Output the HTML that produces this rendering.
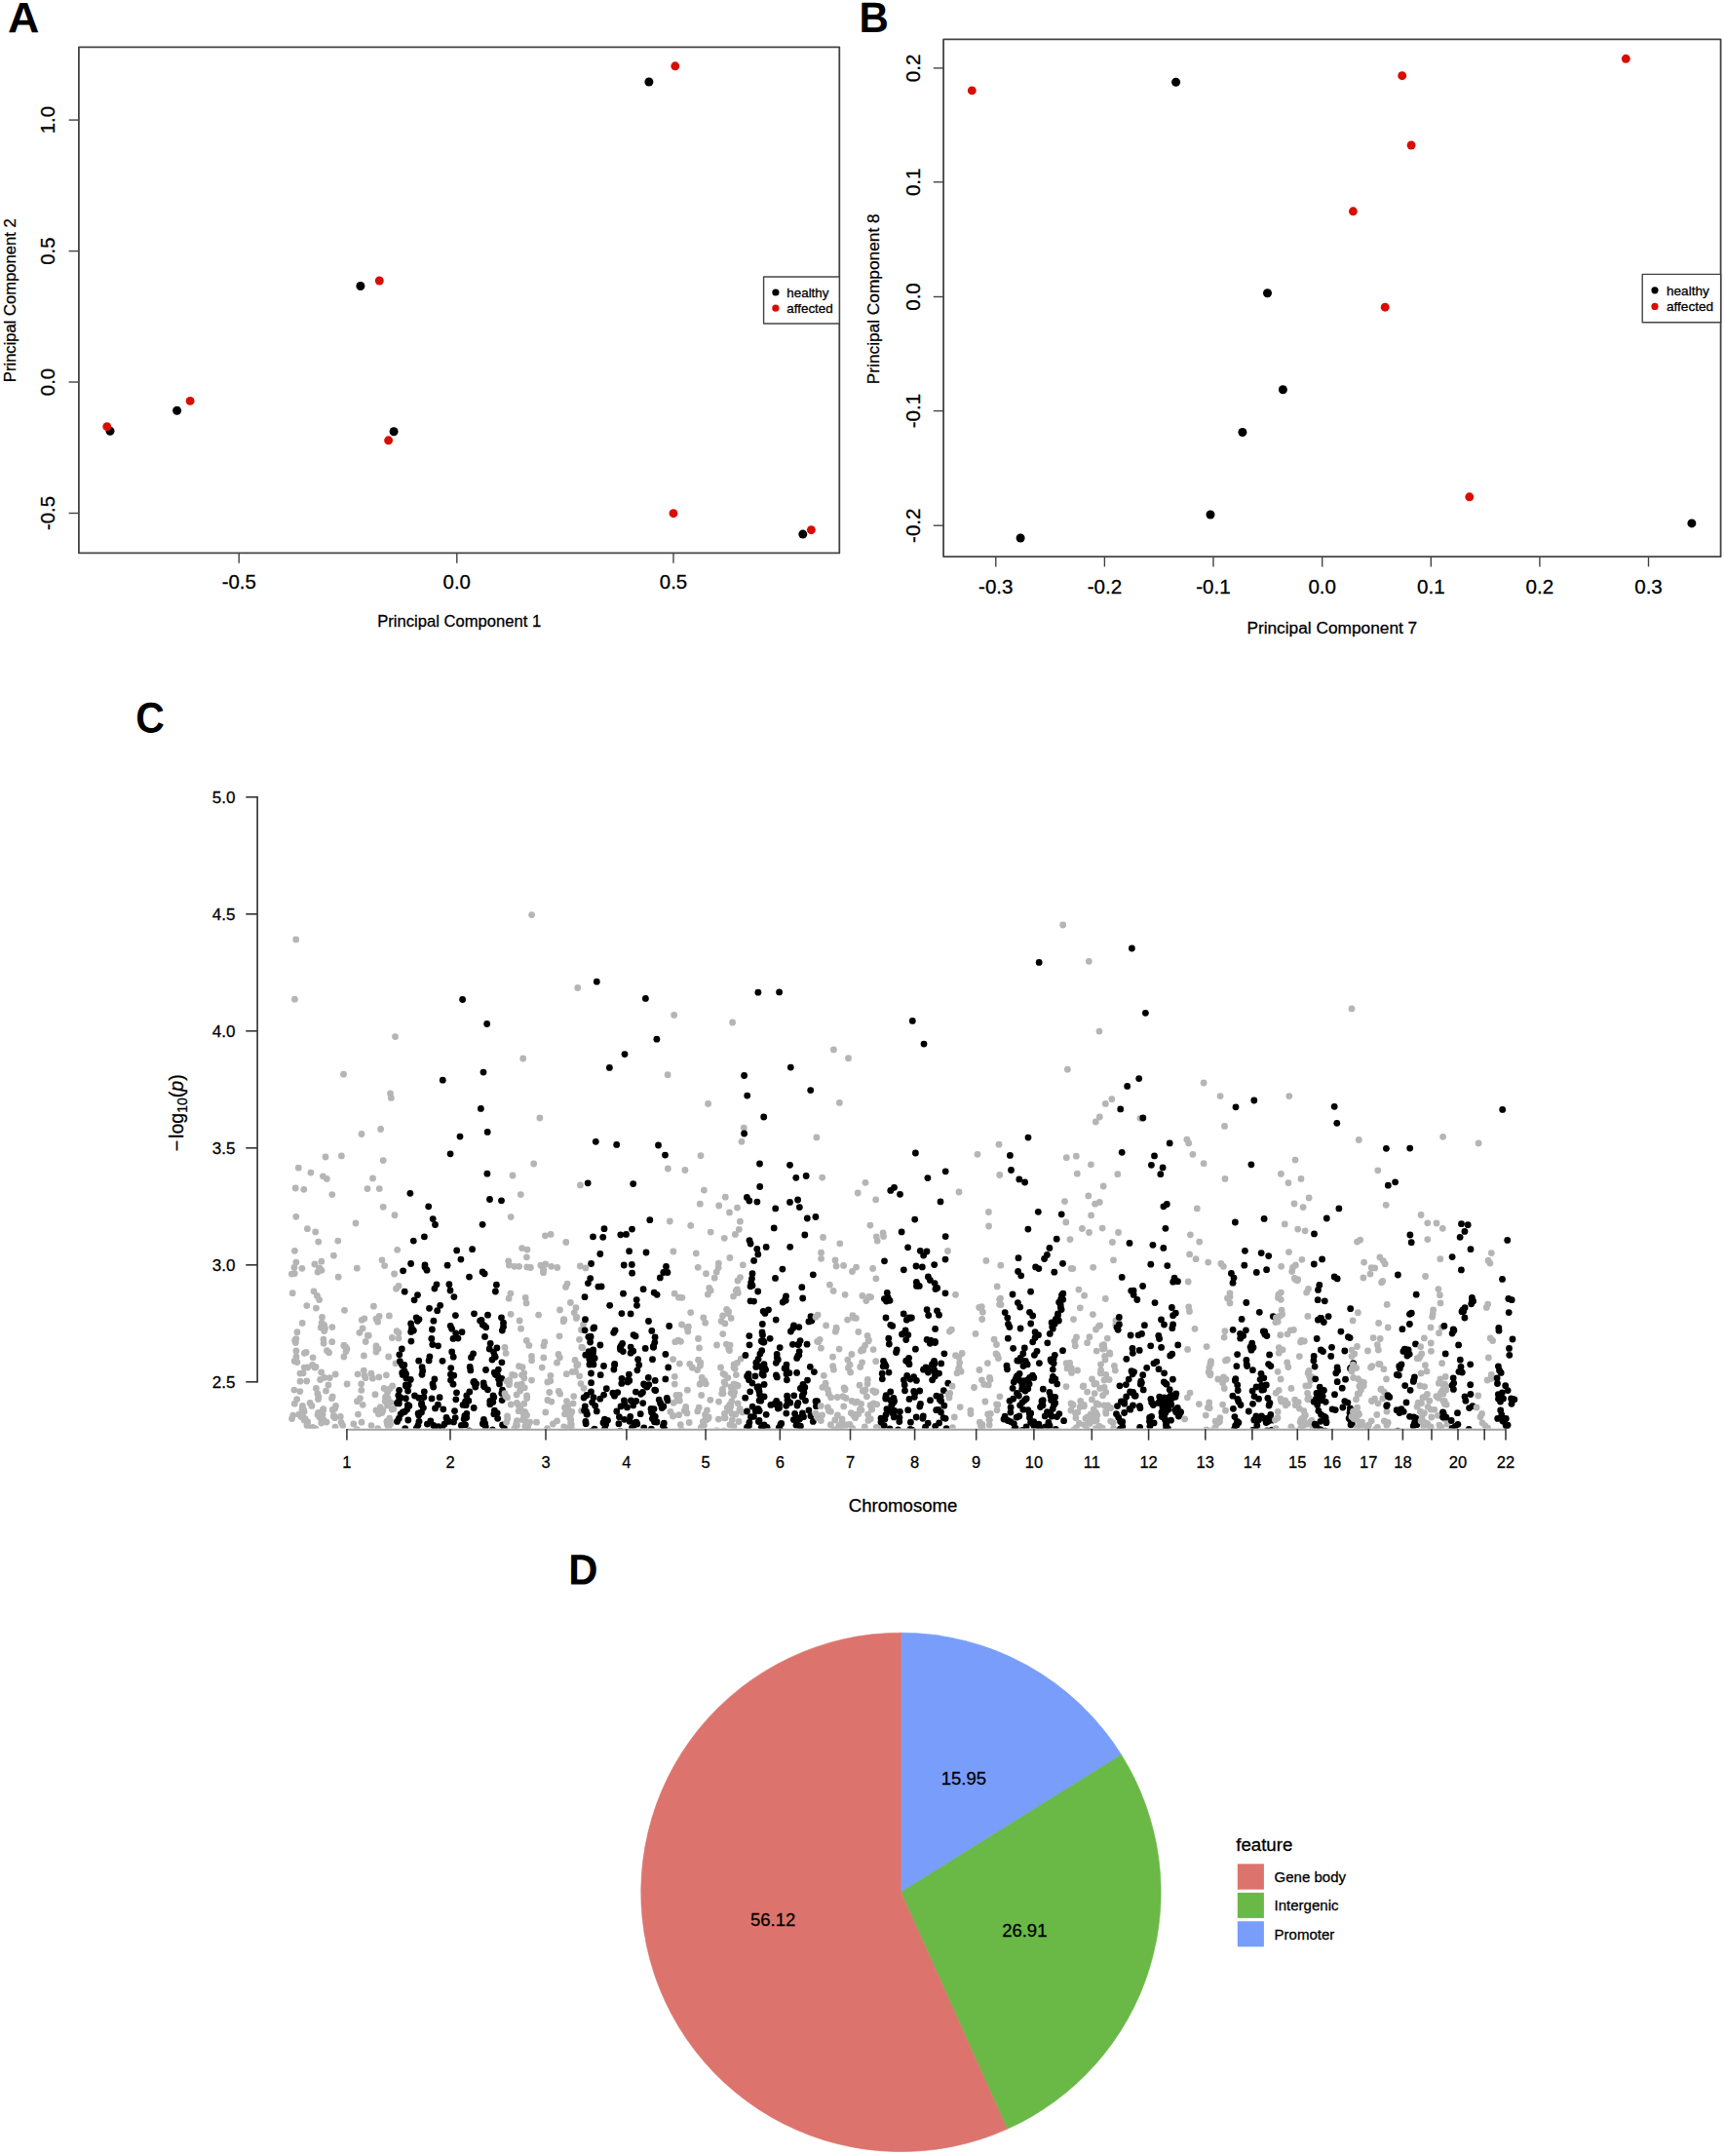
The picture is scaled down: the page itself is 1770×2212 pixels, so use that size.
<!DOCTYPE html>
<html lang="en"><head><meta charset="utf-8"><title>Figure</title>
<style>html,body{margin:0;padding:0;background:#fff}body{width:1770px;height:2212px;overflow:hidden;font-family:"Liberation Sans", sans-serif}svg{display:block}</style>
</head><body>
<svg width="1770" height="2212" viewBox="0 0 1770 2212" font-family='"Liberation Sans", sans-serif'>
<style>text{stroke:#000;stroke-width:.28px}</style>
<text transform="translate(7.95 33.25) rotate(0.03) scale(1.06 1.04)" font-size="42.3" font-weight="bold" fill="#000" style="stroke-width:0;text-rendering:geometricPrecision">A</text>
<rect x="80.9" y="48.3" width="780.4" height="519.1" fill="none" stroke="#444" stroke-width="1.8" stroke-linejoin="round"/>
<g stroke="#444" stroke-width="1.4"><line x1="245.2" y1="567.4" x2="245.2" y2="577.7"/><line x1="468.8" y1="567.4" x2="468.8" y2="577.7"/><line x1="691.0" y1="567.4" x2="691.0" y2="577.7"/><line x1="70.6" y1="123.1" x2="80.9" y2="123.1"/><line x1="70.6" y1="257.6" x2="80.9" y2="257.6"/><line x1="70.6" y1="392.0" x2="80.9" y2="392.0"/><line x1="70.6" y1="526.5" x2="80.9" y2="526.5"/></g>
<g font-size="20.4" text-anchor="middle" fill="#000">
<text x="245.2" y="604.4">-0.5</text>
<text x="468.8" y="604.4">0.0</text>
<text x="691.0" y="604.4">0.5</text>
<text transform="translate(56 123.1) rotate(-90)">1.0</text>
<text transform="translate(56 257.6) rotate(-90)">0.5</text>
<text transform="translate(56 392.0) rotate(-90)">0.0</text>
<text transform="translate(56 526.5) rotate(-90)">-0.5</text>
</g>
<g font-size="16.6" text-anchor="middle" fill="#000">
<text x="471.2" y="643.4">Principal Component 1</text>
<text transform="translate(16.3 308.2) rotate(-90)">Principal Component 2</text>
</g>
<g fill="#000"><circle cx="665.9" cy="84.0" r="4.5"/><circle cx="369.9" cy="293.5" r="4.5"/><circle cx="181.6" cy="421.3" r="4.5"/><circle cx="113.0" cy="442.2" r="4.5"/><circle cx="404.1" cy="442.7" r="4.5"/><circle cx="823.8" cy="548.1" r="4.5"/></g>
<g fill="#d80e04"><circle cx="692.8" cy="67.8" r="4.45"/><circle cx="389.3" cy="288.0" r="4.45"/><circle cx="195.1" cy="411.4" r="4.45"/><circle cx="109.8" cy="437.7" r="4.45"/><circle cx="398.6" cy="451.8" r="4.45"/><circle cx="691.0" cy="526.7" r="4.45"/><circle cx="832.4" cy="543.7" r="4.45"/></g>
<rect x="783.6" y="284" width="77.7" height="48.0" fill="#fff" stroke="#444" stroke-width="1.4" stroke-linejoin="round"/>
<circle cx="795.9" cy="300" r="3.6" fill="#000"/><circle cx="795.9" cy="316.2" r="3.6" fill="#d80e04"/>
<g font-size="13.4" fill="#000"><text x="807.3" y="304.5">healthy</text><text x="807.3" y="320.8">affected</text></g>
<text transform="translate(881.47 33.04) rotate(0.03) scale(0.993 1.04)" font-size="42.3" font-weight="bold" fill="#000" style="stroke-width:0;text-rendering:geometricPrecision">B</text>
<rect x="968.1" y="40.4" width="797.5" height="530.7" fill="none" stroke="#444" stroke-width="1.8" stroke-linejoin="round"/>
<g stroke="#444" stroke-width="1.4"><line x1="1021.8" y1="571.1" x2="1021.8" y2="581.4"/><line x1="1133.4" y1="571.1" x2="1133.4" y2="581.4"/><line x1="1245.0" y1="571.1" x2="1245.0" y2="581.4"/><line x1="1356.7" y1="571.1" x2="1356.7" y2="581.4"/><line x1="1468.3" y1="571.1" x2="1468.3" y2="581.4"/><line x1="1579.9" y1="571.1" x2="1579.9" y2="581.4"/><line x1="1691.5" y1="571.1" x2="1691.5" y2="581.4"/><line x1="957.8" y1="69.9" x2="968.1" y2="69.9"/><line x1="957.8" y1="186.8" x2="968.1" y2="186.8"/><line x1="957.8" y1="304.5" x2="968.1" y2="304.5"/><line x1="957.8" y1="421.6" x2="968.1" y2="421.6"/><line x1="957.8" y1="539.2" x2="968.1" y2="539.2"/></g>
<g font-size="20.6" text-anchor="middle" fill="#000">
<text x="1021.8" y="608.6">-0.3</text>
<text x="1133.4" y="608.6">-0.2</text>
<text x="1245.0" y="608.6">-0.1</text>
<text x="1356.7" y="608.6">0.0</text>
<text x="1468.3" y="608.6">0.1</text>
<text x="1579.9" y="608.6">0.2</text>
<text x="1691.5" y="608.6">0.3</text>
<text transform="translate(944.4 69.9) rotate(-90)">0.2</text>
<text transform="translate(944.4 186.8) rotate(-90)">0.1</text>
<text transform="translate(944.4 304.5) rotate(-90)">0.0</text>
<text transform="translate(944.4 421.6) rotate(-90)">-0.1</text>
<text transform="translate(944.4 539.2) rotate(-90)">-0.2</text>
</g>
<g font-size="17.3" text-anchor="middle" fill="#000">
<text x="1366.8" y="649.6">Principal Component 7</text>
<text transform="translate(901.8 306.8) rotate(-90)">Principal Component 8</text>
</g>
<g fill="#000"><circle cx="1206.6" cy="84.3" r="4.5"/><circle cx="1300.5" cy="300.8" r="4.5"/><circle cx="1316.4" cy="399.7" r="4.5"/><circle cx="1274.9" cy="443.5" r="4.5"/><circle cx="1242.0" cy="528.0" r="4.5"/><circle cx="1047.1" cy="552.0" r="4.5"/><circle cx="1735.9" cy="536.9" r="4.5"/></g>
<g fill="#d80e04"><circle cx="997.3" cy="92.9" r="4.45"/><circle cx="1438.7" cy="77.7" r="4.45"/><circle cx="1668.3" cy="60.3" r="4.45"/><circle cx="1448.1" cy="149.0" r="4.45"/><circle cx="1388.4" cy="216.8" r="4.45"/><circle cx="1421.2" cy="315.2" r="4.45"/><circle cx="1507.8" cy="509.8" r="4.45"/></g>
<rect x="1685.2" y="281.4" width="80.4" height="49.4" fill="#fff" stroke="#444" stroke-width="1.4" stroke-linejoin="round"/>
<circle cx="1698" cy="297.8" r="3.6" fill="#000"/><circle cx="1698" cy="314.4" r="3.6" fill="#d80e04"/>
<g font-size="13.6" fill="#000"><text x="1710" y="302.6">healthy</text><text x="1710" y="319.1">affected</text></g>
<text transform="translate(139.2 751.39) rotate(0.03) scale(0.967 1.04)" font-size="42.3" font-weight="bold" fill="#000" style="stroke-width:0;text-rendering:geometricPrecision">C</text>
<g stroke="#3a3a3a" stroke-width="1.7" fill="none">
<line x1="264.1" y1="817.0" x2="264.1" y2="1418.6"/>
<line x1="252.3" y1="817.8" x2="264.1" y2="817.8"/>
<line x1="252.3" y1="937.8" x2="264.1" y2="937.8"/>
<line x1="252.3" y1="1057.8" x2="264.1" y2="1057.8"/>
<line x1="252.3" y1="1177.8" x2="264.1" y2="1177.8"/>
<line x1="252.3" y1="1297.8" x2="264.1" y2="1297.8"/>
<line x1="252.3" y1="1417.8" x2="264.1" y2="1417.8"/>
</g>
<g font-size="17" text-anchor="end" fill="#000">
<text x="241.5" y="824.2">5.0</text>
<text x="241.5" y="944.2">4.5</text>
<text x="241.5" y="1064.2">4.0</text>
<text x="241.5" y="1184.2">3.5</text>
<text x="241.5" y="1304.2">3.0</text>
<text x="241.5" y="1424.2">2.5</text>
</g>
<text transform="translate(187.8 1141.7) rotate(-90)" font-size="19.6" text-anchor="middle" fill="#000">−<tspan dx="1.8">log</tspan><tspan font-size="14" dy="4.2">10</tspan><tspan dy="-4.2">(</tspan><tspan font-style="italic">p</tspan>)</text>
<clipPath id="cc"><rect x="280" y="800" width="1300" height="665.6"/></clipPath>
<g clip-path="url(#cc)">
<g fill="#b5b5b5"><circle cx="335.5" cy="1385.7" r="3.4"/><circle cx="343.7" cy="1445.1" r="3.4"/><circle cx="308.0" cy="1417.2" r="3.4"/><circle cx="388.9" cy="1412.9" r="3.4"/><circle cx="323.7" cy="1465.7" r="3.4"/><circle cx="311.1" cy="1408.8" r="3.4"/><circle cx="326.6" cy="1449.4" r="3.4"/><circle cx="315.7" cy="1403.0" r="3.4"/><circle cx="400.4" cy="1457.9" r="3.4"/><circle cx="396.9" cy="1458.4" r="3.4"/><circle cx="325.9" cy="1430.0" r="3.4"/><circle cx="324.0" cy="1402.5" r="3.4"/><circle cx="385.0" cy="1430.7" r="3.4"/><circle cx="375.2" cy="1376.5" r="3.4"/><circle cx="386" cy="1353.1" r="3.4"/><circle cx="377.3" cy="1370.2" r="3.4"/><circle cx="301.9" cy="1426.1" r="3.4"/><circle cx="395.5" cy="1433.5" r="3.4"/><circle cx="347.2" cy="1310.2" r="3.4"/><circle cx="330.8" cy="1455.4" r="3.4"/><circle cx="394.1" cy="1424.5" r="3.4"/><circle cx="329.2" cy="1362.0" r="3.4"/><circle cx="388.0" cy="1383.8" r="3.4"/><circle cx="329.7" cy="1460.0" r="3.4"/><circle cx="356.0" cy="1383.8" r="3.4"/><circle cx="332.1" cy="1457.2" r="3.4"/><circle cx="332.9" cy="1413.4" r="3.4"/><circle cx="322.9" cy="1403.1" r="3.4"/><circle cx="400.8" cy="1438.9" r="3.4"/><circle cx="373.9" cy="1411.2" r="3.4"/><circle cx="389.1" cy="1350.5" r="3.4"/><circle cx="366.3" cy="1466.6" r="3.4"/><circle cx="366.3" cy="1301.2" r="3.4"/><circle cx="402.2" cy="1446.0" r="3.4"/><circle cx="309.0" cy="1453.5" r="3.4"/><circle cx="300.2" cy="1326.7" r="3.4"/><circle cx="340.7" cy="1376.7" r="3.4"/><circle cx="373.4" cy="1390.9" r="3.4"/><circle cx="395.2" cy="1437.5" r="3.4"/><circle cx="314.2" cy="1387.4" r="3.4"/><circle cx="351.7" cy="1462.6" r="3.4"/><circle cx="304.8" cy="1397.5" r="3.4"/><circle cx="328.6" cy="1415.5" r="3.4"/><circle cx="380.9" cy="1409.2" r="3.4"/><circle cx="387.7" cy="1465.7" r="3.4"/><circle cx="307.8" cy="1427.6" r="3.4"/><circle cx="326.9" cy="1433.1" r="3.4"/><circle cx="337.6" cy="1387.7" r="3.4"/><circle cx="398.6" cy="1463.9" r="3.4"/><circle cx="400.1" cy="1424.8" r="3.4"/><circle cx="397.5" cy="1461.6" r="3.4"/><circle cx="302.8" cy="1375.1" r="3.4"/><circle cx="324.4" cy="1424.5" r="3.4"/><circle cx="326.0" cy="1305.1" r="3.4"/><circle cx="396.9" cy="1438.6" r="3.4"/><circle cx="312.2" cy="1403.1" r="3.4"/><circle cx="370.7" cy="1419.8" r="3.4"/><circle cx="341.8" cy="1446.5" r="3.4"/><circle cx="331.7" cy="1445.6" r="3.4"/><circle cx="354.6" cy="1382.0" r="3.4"/><circle cx="378.3" cy="1370.2" r="3.4"/><circle cx="398.1" cy="1434.4" r="3.4"/><circle cx="318.1" cy="1439.5" r="3.4"/><circle cx="329.7" cy="1408.0" r="3.4"/><circle cx="367.0" cy="1409.8" r="3.4"/><circle cx="320.4" cy="1466.4" r="3.4"/><circle cx="392.9" cy="1446.9" r="3.4"/><circle cx="344.0" cy="1464.2" r="3.4"/><circle cx="407.1" cy="1365.7" r="3.4"/><circle cx="402.4" cy="1372.5" r="3.4"/><circle cx="312.1" cy="1448.3" r="3.4"/><circle cx="340.5" cy="1434.7" r="3.4"/><circle cx="320.9" cy="1464.5" r="3.4"/><circle cx="371.0" cy="1459.2" r="3.4"/><circle cx="312.1" cy="1457.1" r="3.4"/><circle cx="313.2" cy="1455.7" r="3.4"/><circle cx="317.1" cy="1465.2" r="3.4"/><circle cx="299.5" cy="1455.6" r="3.4"/><circle cx="352.9" cy="1392.0" r="3.4"/><circle cx="331.1" cy="1451.1" r="3.4"/><circle cx="409" cy="1319.5" r="3.4"/><circle cx="315.7" cy="1458.9" r="3.4"/><circle cx="353" cy="1380.5" r="3.4"/><circle cx="385.9" cy="1447.0" r="3.4"/><circle cx="328.0" cy="1454.3" r="3.4"/><circle cx="369.5" cy="1434.6" r="3.4"/><circle cx="342.2" cy="1452.9" r="3.4"/><circle cx="300.7" cy="1452.1" r="3.4"/><circle cx="303.8" cy="1373.7" r="3.4"/><circle cx="382.4" cy="1414.2" r="3.4"/><circle cx="391.9" cy="1449.5" r="3.4"/><circle cx="310.2" cy="1357.5" r="3.4"/><circle cx="368.9" cy="1367.3" r="3.4"/><circle cx="304.9" cy="1366.7" r="3.4"/><circle cx="388.5" cy="1450.8" r="3.4"/><circle cx="373.9" cy="1352.8" r="3.4"/><circle cx="306.8" cy="1451.2" r="3.4"/><circle cx="400.5" cy="1461.3" r="3.4"/><circle cx="387.6" cy="1356.2" r="3.4"/><circle cx="314.8" cy="1339.6" r="3.4"/><circle cx="350.1" cy="1459.3" r="3.4"/><circle cx="355" cy="1386.6" r="3.4"/><circle cx="325.4" cy="1329.4" r="3.4"/><circle cx="327.5" cy="1300.8" r="3.4"/><circle cx="304.7" cy="1435.6" r="3.4"/><circle cx="396.4" cy="1434.7" r="3.4"/><circle cx="326.5" cy="1435.4" r="3.4"/><circle cx="381.0" cy="1462.6" r="3.4"/><circle cx="302.3" cy="1440.2" r="3.4"/><circle cx="320.6" cy="1400.5" r="3.4"/><circle cx="340.9" cy="1361.6" r="3.4"/><circle cx="386" cy="1387.0" r="3.4"/><circle cx="312.4" cy="1388.3" r="3.4"/><circle cx="332.7" cy="1365.6" r="3.4"/><circle cx="341.3" cy="1446.5" r="3.4"/><circle cx="371.2" cy="1354.3" r="3.4"/><circle cx="311.0" cy="1454.0" r="3.4"/><circle cx="343.6" cy="1454.7" r="3.4"/><circle cx="341.2" cy="1432.9" r="3.4"/><circle cx="322.0" cy="1324.8" r="3.4"/><circle cx="404.6" cy="1307.0" r="3.4"/><circle cx="310.4" cy="1442.4" r="3.4"/><circle cx="336.9" cy="1421.0" r="3.4"/><circle cx="372.2" cy="1441.3" r="3.4"/><circle cx="409" cy="1373.1" r="3.4"/><circle cx="383.4" cy="1340.2" r="3.4"/><circle cx="373.3" cy="1406.1" r="3.4"/><circle cx="349.3" cy="1453.4" r="3.4"/><circle cx="353.5" cy="1344.3" r="3.4"/><circle cx="367.4" cy="1451.1" r="3.4"/><circle cx="319.9" cy="1442.4" r="3.4"/><circle cx="399.4" cy="1349.9" r="3.4"/><circle cx="302.3" cy="1306.6" r="3.4"/><circle cx="397.5" cy="1442.1" r="3.4"/><circle cx="328.4" cy="1301.6" r="3.4"/><circle cx="353" cy="1380.4" r="3.4"/><circle cx="406.5" cy="1322.2" r="3.4"/><circle cx="344.2" cy="1410.0" r="3.4"/><circle cx="338.3" cy="1413.6" r="3.4"/><circle cx="390.3" cy="1443.7" r="3.4"/><circle cx="303.3" cy="1377.5" r="3.4"/><circle cx="404.0" cy="1445.5" r="3.4"/><circle cx="362.8" cy="1460.9" r="3.4"/><circle cx="386" cy="1380.8" r="3.4"/><circle cx="324.4" cy="1342.1" r="3.4"/><circle cx="335.1" cy="1459.1" r="3.4"/><circle cx="330.0" cy="1303.3" r="3.4"/><circle cx="314.7" cy="1417.0" r="3.4"/><circle cx="311.3" cy="1446.0" r="3.4"/><circle cx="326.0" cy="1451.6" r="3.4"/><circle cx="356.1" cy="1420.0" r="3.4"/><circle cx="396.4" cy="1410.8" r="3.4"/><circle cx="398.8" cy="1439.6" r="3.4"/><circle cx="303.9" cy="1386.0" r="3.4"/><circle cx="406.0" cy="1398.8" r="3.4"/><circle cx="397.6" cy="1428.4" r="3.4"/><circle cx="315.2" cy="1462.4" r="3.4"/><circle cx="402.7" cy="1421.9" r="3.4"/><circle cx="302.8" cy="1375.4" r="3.4"/><circle cx="331.6" cy="1361.7" r="3.4"/><circle cx="302.2" cy="1396.5" r="3.4"/><circle cx="344.5" cy="1442.4" r="3.4"/><circle cx="315.0" cy="1462.2" r="3.4"/><circle cx="409" cy="1367.4" r="3.4"/><circle cx="304.0" cy="1391.9" r="3.4"/><circle cx="342.9" cy="1452.7" r="3.4"/><circle cx="375.1" cy="1413.7" r="3.4"/><circle cx="331.9" cy="1374.1" r="3.4"/><circle cx="327.6" cy="1333.6" r="3.4"/><circle cx="386" cy="1383.4" r="3.4"/><circle cx="399.6" cy="1455.1" r="3.4"/><circle cx="398.7" cy="1392.0" r="3.4"/><circle cx="310.0" cy="1445.8" r="3.4"/><circle cx="331.3" cy="1447.2" r="3.4"/><circle cx="334.5" cy="1427.1" r="3.4"/><circle cx="332.1" cy="1378.3" r="3.4"/><circle cx="372.1" cy="1363.0" r="3.4"/><circle cx="321.1" cy="1392.8" r="3.4"/><circle cx="330.5" cy="1351.4" r="3.4"/><circle cx="331.5" cy="1456.9" r="3.4"/><circle cx="333.5" cy="1363.0" r="3.4"/><circle cx="370.8" cy="1426.3" r="3.4"/><circle cx="332.6" cy="1359.4" r="3.4"/><circle cx="307.9" cy="1409.1" r="3.4"/><circle cx="366.5" cy="1437.7" r="3.4"/><circle cx="331.3" cy="1447.0" r="3.4"/><circle cx="299.3" cy="1307.1" r="3.4"/><circle cx="330.1" cy="1357.1" r="3.4"/></g>
<g fill="#000"><circle cx="465.9" cy="1330.6" r="3.4"/><circle cx="462.7" cy="1403.6" r="3.4"/><circle cx="440.9" cy="1391.8" r="3.4"/><circle cx="476.8" cy="1452.7" r="3.4"/><circle cx="509.2" cy="1410.4" r="3.4"/><circle cx="440.5" cy="1342.3" r="3.4"/><circle cx="422.5" cy="1362.7" r="3.4"/><circle cx="443.4" cy="1364.0" r="3.4"/><circle cx="409.3" cy="1439.9" r="3.4"/><circle cx="409.7" cy="1435.8" r="3.4"/><circle cx="444.8" cy="1472.3" r="3.4"/><circle cx="468.5" cy="1428.8" r="3.4"/><circle cx="477.5" cy="1461.9" r="3.4"/><circle cx="480.8" cy="1437.2" r="3.4"/><circle cx="413.3" cy="1448.9" r="3.4"/><circle cx="495.4" cy="1460.7" r="3.4"/><circle cx="444.9" cy="1355.2" r="3.4"/><circle cx="436.0" cy="1297.8" r="3.4"/><circle cx="448" cy="1317.8" r="3.4"/><circle cx="505.8" cy="1438.5" r="3.4"/><circle cx="413.2" cy="1410.4" r="3.4"/><circle cx="481.8" cy="1427.9" r="3.4"/><circle cx="505.5" cy="1467.0" r="3.4"/><circle cx="478.8" cy="1432.0" r="3.4"/><circle cx="500.5" cy="1349.2" r="3.4"/><circle cx="429.1" cy="1450.1" r="3.4"/><circle cx="483.5" cy="1392.7" r="3.4"/><circle cx="515.5" cy="1426.1" r="3.4"/><circle cx="462.4" cy="1410.1" r="3.4"/><circle cx="415.0" cy="1406.7" r="3.4"/><circle cx="465.0" cy="1420.2" r="3.4"/><circle cx="445.9" cy="1322.1" r="3.4"/><circle cx="407.5" cy="1458.4" r="3.4"/><circle cx="424.4" cy="1365.1" r="3.4"/><circle cx="486.5" cy="1347.8" r="3.4"/><circle cx="433.7" cy="1406.5" r="3.4"/><circle cx="438.4" cy="1461.1" r="3.4"/><circle cx="498.3" cy="1464.0" r="3.4"/><circle cx="462.2" cy="1360.3" r="3.4"/><circle cx="458.7" cy="1456.5" r="3.4"/><circle cx="415.7" cy="1465.7" r="3.4"/><circle cx="506.8" cy="1450.8" r="3.4"/><circle cx="449.8" cy="1463.7" r="3.4"/><circle cx="511.7" cy="1415.2" r="3.4"/><circle cx="465.0" cy="1373.4" r="3.4"/><circle cx="496.4" cy="1456.5" r="3.4"/><circle cx="466.5" cy="1447.6" r="3.4"/><circle cx="488.7" cy="1419.8" r="3.4"/><circle cx="473.4" cy="1462.4" r="3.4"/><circle cx="486.7" cy="1417.3" r="3.4"/><circle cx="467.8" cy="1435.8" r="3.4"/><circle cx="514.8" cy="1429.4" r="3.4"/><circle cx="482.2" cy="1402.4" r="3.4"/><circle cx="460.5" cy="1458.4" r="3.4"/><circle cx="409.6" cy="1426.3" r="3.4"/><circle cx="430" cy="1353.6" r="3.4"/><circle cx="516.5" cy="1357.2" r="3.4"/><circle cx="412.5" cy="1400.3" r="3.4"/><circle cx="495.1" cy="1305.0" r="3.4"/><circle cx="413.5" cy="1401.4" r="3.4"/><circle cx="430.8" cy="1449.6" r="3.4"/><circle cx="475.1" cy="1441.4" r="3.4"/><circle cx="494" cy="1354.3" r="3.4"/><circle cx="433.1" cy="1402.6" r="3.4"/><circle cx="506.0" cy="1432.0" r="3.4"/><circle cx="427.2" cy="1351.8" r="3.4"/><circle cx="412.3" cy="1384.0" r="3.4"/><circle cx="517.4" cy="1465.3" r="3.4"/><circle cx="446.0" cy="1467.4" r="3.4"/><circle cx="411.1" cy="1433.9" r="3.4"/><circle cx="418.8" cy="1457.0" r="3.4"/><circle cx="507.3" cy="1408.2" r="3.4"/><circle cx="478.8" cy="1450.3" r="3.4"/><circle cx="500.5" cy="1425.8" r="3.4"/><circle cx="486.2" cy="1444.5" r="3.4"/><circle cx="487.8" cy="1423.1" r="3.4"/><circle cx="432.5" cy="1449.0" r="3.4"/><circle cx="409.8" cy="1389.8" r="3.4"/><circle cx="427.3" cy="1465.4" r="3.4"/><circle cx="502.2" cy="1384.0" r="3.4"/><circle cx="428.4" cy="1355.3" r="3.4"/><circle cx="407.5" cy="1439.5" r="3.4"/><circle cx="412.7" cy="1408.5" r="3.4"/><circle cx="467.2" cy="1454.6" r="3.4"/><circle cx="487.1" cy="1419.7" r="3.4"/><circle cx="495.3" cy="1359.2" r="3.4"/><circle cx="514.5" cy="1351.8" r="3.4"/><circle cx="478.2" cy="1441.7" r="3.4"/><circle cx="430" cy="1458.3" r="3.4"/><circle cx="477.5" cy="1437.8" r="3.4"/><circle cx="448.7" cy="1344.7" r="3.4"/><circle cx="421.3" cy="1415.4" r="3.4"/><circle cx="509.4" cy="1318.2" r="3.4"/><circle cx="470" cy="1373.1" r="3.4"/><circle cx="416.5" cy="1422.1" r="3.4"/><circle cx="419.2" cy="1421.0" r="3.4"/><circle cx="416.4" cy="1420.9" r="3.4"/><circle cx="456.0" cy="1461.2" r="3.4"/><circle cx="433.0" cy="1410.3" r="3.4"/><circle cx="440.1" cy="1395.9" r="3.4"/><circle cx="515.2" cy="1436.6" r="3.4"/><circle cx="454.8" cy="1445.8" r="3.4"/><circle cx="416.4" cy="1434.7" r="3.4"/><circle cx="445.9" cy="1414.9" r="3.4"/><circle cx="510.2" cy="1449.8" r="3.4"/><circle cx="485.6" cy="1388.8" r="3.4"/><circle cx="497.7" cy="1460.5" r="3.4"/><circle cx="421.7" cy="1366.4" r="3.4"/><circle cx="502.8" cy="1437.5" r="3.4"/><circle cx="428.9" cy="1462.3" r="3.4"/><circle cx="462.5" cy="1416.1" r="3.4"/><circle cx="476.1" cy="1456.1" r="3.4"/><circle cx="421.9" cy="1376.1" r="3.4"/><circle cx="506.8" cy="1433.5" r="3.4"/><circle cx="442.8" cy="1373.4" r="3.4"/><circle cx="413.3" cy="1470.8" r="3.4"/><circle cx="465.7" cy="1411.2" r="3.4"/><circle cx="415.2" cy="1325.2" r="3.4"/><circle cx="508.4" cy="1325.0" r="3.4"/><circle cx="434.4" cy="1444.5" r="3.4"/><circle cx="425.5" cy="1432.0" r="3.4"/><circle cx="453.6" cy="1465.7" r="3.4"/><circle cx="418.6" cy="1427.0" r="3.4"/><circle cx="467.4" cy="1349.6" r="3.4"/><circle cx="485.8" cy="1417.9" r="3.4"/><circle cx="438.0" cy="1303.2" r="3.4"/><circle cx="462.0" cy="1324.0" r="3.4"/><circle cx="410.4" cy="1396.7" r="3.4"/><circle cx="503.2" cy="1378.4" r="3.4"/><circle cx="508.2" cy="1392.3" r="3.4"/><circle cx="436.0" cy="1300.1" r="3.4"/><circle cx="465.2" cy="1392.2" r="3.4"/><circle cx="514.9" cy="1397.8" r="3.4"/><circle cx="416.6" cy="1409.7" r="3.4"/><circle cx="451.7" cy="1339.3" r="3.4"/><circle cx="482.8" cy="1405.9" r="3.4"/><circle cx="434.9" cy="1433.5" r="3.4"/><circle cx="497.0" cy="1460.6" r="3.4"/><circle cx="419.8" cy="1442.4" r="3.4"/><circle cx="432.6" cy="1439.7" r="3.4"/><circle cx="421.6" cy="1358.0" r="3.4"/><circle cx="415.3" cy="1448.4" r="3.4"/><circle cx="449.4" cy="1441.2" r="3.4"/><circle cx="444.0" cy="1420.0" r="3.4"/><circle cx="444.7" cy="1423.1" r="3.4"/><circle cx="444.8" cy="1462.5" r="3.4"/><circle cx="413.6" cy="1303.8" r="3.4"/><circle cx="443.0" cy="1434.9" r="3.4"/><circle cx="503.6" cy="1438.5" r="3.4"/><circle cx="443.8" cy="1379.5" r="3.4"/><circle cx="498.7" cy="1361.8" r="3.4"/><circle cx="512.5" cy="1419.9" r="3.4"/><circle cx="449.5" cy="1380.8" r="3.4"/><circle cx="429.7" cy="1396.2" r="3.4"/><circle cx="446.5" cy="1444.9" r="3.4"/><circle cx="497.2" cy="1306.8" r="3.4"/><circle cx="508.4" cy="1410.2" r="3.4"/><circle cx="498.5" cy="1405.5" r="3.4"/><circle cx="417.7" cy="1446.1" r="3.4"/><circle cx="510.7" cy="1455.3" r="3.4"/><circle cx="509.9" cy="1382.9" r="3.4"/><circle cx="497.2" cy="1422.9" r="3.4"/><circle cx="514.8" cy="1414.3" r="3.4"/><circle cx="505.0" cy="1395.1" r="3.4"/><circle cx="516.5" cy="1361.3" r="3.4"/><circle cx="429.8" cy="1434.2" r="3.4"/><circle cx="432.6" cy="1441.5" r="3.4"/><circle cx="460.9" cy="1317.7" r="3.4"/><circle cx="478.6" cy="1454.5" r="3.4"/><circle cx="435.3" cy="1427.8" r="3.4"/><circle cx="465.5" cy="1458.9" r="3.4"/><circle cx="463.7" cy="1387.0" r="3.4"/><circle cx="492.6" cy="1355.1" r="3.4"/><circle cx="451.1" cy="1433.7" r="3.4"/><circle cx="506.5" cy="1387.1" r="3.4"/><circle cx="411.1" cy="1451.0" r="3.4"/><circle cx="496.2" cy="1418.8" r="3.4"/><circle cx="463.6" cy="1363.3" r="3.4"/><circle cx="408.8" cy="1431.6" r="3.4"/><circle cx="418.4" cy="1441.4" r="3.4"/><circle cx="511.3" cy="1405.2" r="3.4"/><circle cx="502.8" cy="1440.7" r="3.4"/><circle cx="481.5" cy="1310.1" r="3.4"/><circle cx="458.0" cy="1454.5" r="3.4"/><circle cx="481.6" cy="1467.9" r="3.4"/><circle cx="467.7" cy="1367.8" r="3.4"/><circle cx="441.8" cy="1457.8" r="3.4"/><circle cx="515.6" cy="1461.9" r="3.4"/><circle cx="497.5" cy="1371.4" r="3.4"/><circle cx="474.0" cy="1366.7" r="3.4"/><circle cx="409.3" cy="1455.4" r="3.4"/><circle cx="497.0" cy="1360.1" r="3.4"/><circle cx="515.3" cy="1365.1" r="3.4"/><circle cx="510.6" cy="1411.2" r="3.4"/><circle cx="429.7" cy="1452.0" r="3.4"/><circle cx="454.0" cy="1396.3" r="3.4"/><circle cx="416.8" cy="1414.1" r="3.4"/><circle cx="507.5" cy="1390.8" r="3.4"/><circle cx="507.4" cy="1447.2" r="3.4"/><circle cx="496.4" cy="1421.9" r="3.4"/><circle cx="428.5" cy="1328.6" r="3.4"/><circle cx="414.8" cy="1400.5" r="3.4"/><circle cx="425.1" cy="1333.8" r="3.4"/></g>
<g fill="#b5b5b5"><circle cx="523.9" cy="1327.1" r="3.4"/><circle cx="545.6" cy="1395.8" r="3.4"/><circle cx="539.5" cy="1466.0" r="3.4"/><circle cx="591.0" cy="1341.7" r="3.4"/><circle cx="529.4" cy="1462.8" r="3.4"/><circle cx="574.0" cy="1370.8" r="3.4"/><circle cx="537.3" cy="1456.3" r="3.4"/><circle cx="587.3" cy="1407.4" r="3.4"/><circle cx="581.7" cy="1444.1" r="3.4"/><circle cx="579.5" cy="1450.8" r="3.4"/><circle cx="540.1" cy="1336.9" r="3.4"/><circle cx="540.5" cy="1451.9" r="3.4"/><circle cx="586.8" cy="1448.4" r="3.4"/><circle cx="596.6" cy="1447.4" r="3.4"/><circle cx="520.6" cy="1452.8" r="3.4"/><circle cx="591.8" cy="1351.3" r="3.4"/><circle cx="578.7" cy="1464.0" r="3.4"/><circle cx="596.4" cy="1364.5" r="3.4"/><circle cx="586.7" cy="1466.4" r="3.4"/><circle cx="583" cy="1446.6" r="3.4"/><circle cx="538.7" cy="1448.6" r="3.4"/><circle cx="539.2" cy="1331.5" r="3.4"/><circle cx="594.5" cy="1374.3" r="3.4"/><circle cx="533.6" cy="1427.0" r="3.4"/><circle cx="535.3" cy="1420.1" r="3.4"/><circle cx="527.8" cy="1465.6" r="3.4"/><circle cx="581.6" cy="1449.2" r="3.4"/><circle cx="580.5" cy="1320.4" r="3.4"/><circle cx="522.4" cy="1420.7" r="3.4"/><circle cx="596.8" cy="1382.2" r="3.4"/><circle cx="578.9" cy="1354.1" r="3.4"/><circle cx="595.9" cy="1419.6" r="3.4"/><circle cx="574.7" cy="1430.1" r="3.4"/><circle cx="584.3" cy="1466.4" r="3.4"/><circle cx="585.7" cy="1456.3" r="3.4"/><circle cx="531.8" cy="1441.6" r="3.4"/><circle cx="543.7" cy="1459.1" r="3.4"/><circle cx="530.3" cy="1439.3" r="3.4"/><circle cx="536.1" cy="1402.7" r="3.4"/><circle cx="598.6" cy="1358.8" r="3.4"/><circle cx="519.6" cy="1459.3" r="3.4"/><circle cx="563.4" cy="1472.0" r="3.4"/><circle cx="519.9" cy="1417.1" r="3.4"/><circle cx="588.1" cy="1439.9" r="3.4"/><circle cx="557.8" cy="1392.9" r="3.4"/><circle cx="520.8" cy="1455.6" r="3.4"/><circle cx="561.8" cy="1418.0" r="3.4"/><circle cx="540.4" cy="1462.8" r="3.4"/><circle cx="524.1" cy="1348.3" r="3.4"/><circle cx="518.9" cy="1432.6" r="3.4"/><circle cx="589.2" cy="1346.8" r="3.4"/><circle cx="537.6" cy="1449.8" r="3.4"/><circle cx="522.6" cy="1419.0" r="3.4"/><circle cx="539.7" cy="1458.5" r="3.4"/><circle cx="585.4" cy="1336.5" r="3.4"/><circle cx="557.5" cy="1305.7" r="3.4"/><circle cx="540.5" cy="1461.9" r="3.4"/><circle cx="540.3" cy="1375.4" r="3.4"/><circle cx="518" cy="1429.6" r="3.4"/><circle cx="558.8" cy="1376.9" r="3.4"/><circle cx="554.9" cy="1298.2" r="3.4"/><circle cx="519.1" cy="1388.4" r="3.4"/><circle cx="579.7" cy="1444.0" r="3.4"/><circle cx="540.6" cy="1471.8" r="3.4"/><circle cx="557.4" cy="1303.1" r="3.4"/><circle cx="532.2" cy="1447.7" r="3.4"/><circle cx="543.9" cy="1470.0" r="3.4"/><circle cx="529.9" cy="1460.4" r="3.4"/><circle cx="561.6" cy="1465.6" r="3.4"/><circle cx="550.5" cy="1459.2" r="3.4"/><circle cx="557.8" cy="1380.8" r="3.4"/><circle cx="533.8" cy="1420.9" r="3.4"/><circle cx="594.6" cy="1411.8" r="3.4"/><circle cx="541.9" cy="1463.0" r="3.4"/><circle cx="536.4" cy="1456.7" r="3.4"/><circle cx="520.5" cy="1433.7" r="3.4"/><circle cx="585.6" cy="1459.8" r="3.4"/><circle cx="534.6" cy="1363.2" r="3.4"/><circle cx="540.7" cy="1434.5" r="3.4"/><circle cx="518" cy="1382.4" r="3.4"/><circle cx="581.3" cy="1409.7" r="3.4"/><circle cx="532.5" cy="1401.7" r="3.4"/><circle cx="586.3" cy="1461.6" r="3.4"/><circle cx="588.7" cy="1432.6" r="3.4"/><circle cx="581.5" cy="1437.6" r="3.4"/><circle cx="591.3" cy="1352.4" r="3.4"/><circle cx="533.9" cy="1421.3" r="3.4"/><circle cx="578.5" cy="1353.6" r="3.4"/><circle cx="524.2" cy="1441.0" r="3.4"/><circle cx="522.1" cy="1332.2" r="3.4"/><circle cx="533.9" cy="1443.4" r="3.4"/><circle cx="561.9" cy="1436.5" r="3.4"/><circle cx="571.5" cy="1398.2" r="3.4"/><circle cx="573.0" cy="1389.4" r="3.4"/><circle cx="597.8" cy="1382.8" r="3.4"/><circle cx="537.7" cy="1408.8" r="3.4"/><circle cx="552.6" cy="1349.1" r="3.4"/><circle cx="590.5" cy="1407.3" r="3.4"/><circle cx="585.3" cy="1451.5" r="3.4"/><circle cx="571.6" cy="1457.8" r="3.4"/><circle cx="582.6" cy="1442.1" r="3.4"/><circle cx="535.5" cy="1410.8" r="3.4"/><circle cx="544.4" cy="1300.5" r="3.4"/><circle cx="578.1" cy="1355.7" r="3.4"/><circle cx="574.5" cy="1343.9" r="3.4"/><circle cx="540.6" cy="1431.9" r="3.4"/><circle cx="537.9" cy="1414.0" r="3.4"/><circle cx="591.8" cy="1401.3" r="3.4"/><circle cx="579.8" cy="1444.7" r="3.4"/><circle cx="537.6" cy="1453.1" r="3.4"/><circle cx="530.5" cy="1457.6" r="3.4"/><circle cx="530.1" cy="1431.0" r="3.4"/><circle cx="580.6" cy="1450.4" r="3.4"/><circle cx="584.8" cy="1454.7" r="3.4"/><circle cx="541.2" cy="1465.0" r="3.4"/><circle cx="530.5" cy="1462.7" r="3.4"/><circle cx="599.0" cy="1424.3" r="3.4"/><circle cx="593.0" cy="1400.0" r="3.4"/><circle cx="538.8" cy="1463.2" r="3.4"/><circle cx="528.1" cy="1411.1" r="3.4"/><circle cx="574.4" cy="1392.8" r="3.4"/><circle cx="537.7" cy="1440.2" r="3.4"/><circle cx="542.9" cy="1380.4" r="3.4"/><circle cx="585.9" cy="1468.4" r="3.4"/><circle cx="561.7" cy="1468.7" r="3.4"/><circle cx="592.2" cy="1399.8" r="3.4"/><circle cx="530.6" cy="1421.0" r="3.4"/><circle cx="545.5" cy="1391.4" r="3.4"/><circle cx="559.8" cy="1448.9" r="3.4"/><circle cx="537.5" cy="1448.3" r="3.4"/><circle cx="533.1" cy="1355.0" r="3.4"/><circle cx="564.8" cy="1416.8" r="3.4"/><circle cx="567.4" cy="1461.0" r="3.4"/><circle cx="557.6" cy="1302.6" r="3.4"/><circle cx="538.3" cy="1423.8" r="3.4"/><circle cx="525.6" cy="1410.5" r="3.4"/><circle cx="582.1" cy="1317.1" r="3.4"/><circle cx="564.9" cy="1411.3" r="3.4"/><circle cx="565.8" cy="1438.1" r="3.4"/><circle cx="522.8" cy="1416.0" r="3.4"/><circle cx="537.3" cy="1449.7" r="3.4"/><circle cx="556.2" cy="1403.1" r="3.4"/><circle cx="545.5" cy="1416.1" r="3.4"/><circle cx="590.0" cy="1395.4" r="3.4"/><circle cx="581.9" cy="1465.1" r="3.4"/><circle cx="573.3" cy="1427.5" r="3.4"/><circle cx="563.8" cy="1428.5" r="3.4"/></g>
<g fill="#000"><circle cx="682.8" cy="1414.9" r="3.4"/><circle cx="604.8" cy="1394.6" r="3.4"/><circle cx="670.5" cy="1382.0" r="3.4"/><circle cx="653.5" cy="1339.3" r="3.4"/><circle cx="605.9" cy="1391.4" r="3.4"/><circle cx="665.3" cy="1413.4" r="3.4"/><circle cx="683.5" cy="1299.4" r="3.4"/><circle cx="616.2" cy="1410.7" r="3.4"/><circle cx="628.9" cy="1429.2" r="3.4"/><circle cx="650.1" cy="1369.6" r="3.4"/><circle cx="606.0" cy="1371.9" r="3.4"/><circle cx="606.6" cy="1418.7" r="3.4"/><circle cx="605.7" cy="1311.6" r="3.4"/><circle cx="623.5" cy="1457.3" r="3.4"/><circle cx="634.9" cy="1460.7" r="3.4"/><circle cx="662.2" cy="1383.4" r="3.4"/><circle cx="630.7" cy="1400.2" r="3.4"/><circle cx="644" cy="1417.9" r="3.4"/><circle cx="607.2" cy="1468.1" r="3.4"/><circle cx="676.2" cy="1436.1" r="3.4"/><circle cx="631.1" cy="1364.9" r="3.4"/><circle cx="600.5" cy="1353.7" r="3.4"/><circle cx="660.1" cy="1322.7" r="3.4"/><circle cx="602.0" cy="1431.5" r="3.4"/><circle cx="653.8" cy="1460.9" r="3.4"/><circle cx="625.7" cy="1339.3" r="3.4"/><circle cx="680.4" cy="1462.9" r="3.4"/><circle cx="638.0" cy="1414.3" r="3.4"/><circle cx="629.7" cy="1367.3" r="3.4"/><circle cx="659.5" cy="1428.5" r="3.4"/><circle cx="608.7" cy="1384.9" r="3.4"/><circle cx="605.6" cy="1377.0" r="3.4"/><circle cx="672.3" cy="1453.5" r="3.4"/><circle cx="599.1" cy="1434.0" r="3.4"/><circle cx="651.1" cy="1461.7" r="3.4"/><circle cx="600.1" cy="1364.8" r="3.4"/><circle cx="672.2" cy="1416.4" r="3.4"/><circle cx="600.8" cy="1390.2" r="3.4"/><circle cx="603.8" cy="1371.6" r="3.4"/><circle cx="649.7" cy="1441.9" r="3.4"/><circle cx="619.0" cy="1459.7" r="3.4"/><circle cx="609" cy="1399.9" r="3.4"/><circle cx="635.4" cy="1453.7" r="3.4"/><circle cx="660.8" cy="1464.8" r="3.4"/><circle cx="669.4" cy="1455.6" r="3.4"/><circle cx="640.4" cy="1436.8" r="3.4"/><circle cx="600.9" cy="1458.5" r="3.4"/><circle cx="602.4" cy="1451.0" r="3.4"/><circle cx="637.2" cy="1380.8" r="3.4"/><circle cx="647.4" cy="1437.0" r="3.4"/><circle cx="610.0" cy="1466.1" r="3.4"/><circle cx="633.7" cy="1428.6" r="3.4"/><circle cx="680.8" cy="1305.5" r="3.4"/><circle cx="602.0" cy="1450.9" r="3.4"/><circle cx="601.2" cy="1460.7" r="3.4"/><circle cx="650.9" cy="1460.0" r="3.4"/><circle cx="647.1" cy="1347.9" r="3.4"/><circle cx="599.5" cy="1447.1" r="3.4"/><circle cx="620.4" cy="1456.2" r="3.4"/><circle cx="632.8" cy="1448.0" r="3.4"/><circle cx="606.5" cy="1427.9" r="3.4"/><circle cx="652.7" cy="1437.5" r="3.4"/><circle cx="665.8" cy="1420.6" r="3.4"/><circle cx="620.6" cy="1465.6" r="3.4"/><circle cx="653.9" cy="1405.8" r="3.4"/><circle cx="647.2" cy="1382.1" r="3.4"/><circle cx="643.5" cy="1443.9" r="3.4"/><circle cx="638.6" cy="1378.4" r="3.4"/><circle cx="674.0" cy="1459.0" r="3.4"/><circle cx="657.2" cy="1450.7" r="3.4"/><circle cx="680.9" cy="1443.1" r="3.4"/><circle cx="652.4" cy="1428.1" r="3.4"/><circle cx="663.9" cy="1423.0" r="3.4"/><circle cx="645.4" cy="1410.1" r="3.4"/><circle cx="619.5" cy="1401.5" r="3.4"/><circle cx="671.0" cy="1445.6" r="3.4"/><circle cx="637.8" cy="1419.4" r="3.4"/><circle cx="668.4" cy="1466.2" r="3.4"/><circle cx="684.9" cy="1305.5" r="3.4"/><circle cx="640.8" cy="1440.4" r="3.4"/><circle cx="606.0" cy="1371.1" r="3.4"/><circle cx="617.1" cy="1319.9" r="3.4"/><circle cx="637.0" cy="1442.9" r="3.4"/><circle cx="645.8" cy="1416.4" r="3.4"/><circle cx="601.5" cy="1448.1" r="3.4"/><circle cx="630.5" cy="1432.2" r="3.4"/><circle cx="600.0" cy="1330.7" r="3.4"/><circle cx="613.9" cy="1320.1" r="3.4"/><circle cx="612.3" cy="1447.9" r="3.4"/><circle cx="685.7" cy="1402.9" r="3.4"/><circle cx="669.5" cy="1394.7" r="3.4"/><circle cx="607.6" cy="1438.8" r="3.4"/><circle cx="640.6" cy="1456.3" r="3.4"/><circle cx="609" cy="1474.1" r="3.4"/><circle cx="671.8" cy="1377.3" r="3.4"/><circle cx="661.7" cy="1421.2" r="3.4"/><circle cx="636.5" cy="1384.4" r="3.4"/><circle cx="648.5" cy="1464.8" r="3.4"/><circle cx="684.3" cy="1434.5" r="3.4"/><circle cx="665.5" cy="1355.5" r="3.4"/><circle cx="603.4" cy="1316.6" r="3.4"/><circle cx="609" cy="1433.7" r="3.4"/><circle cx="670.2" cy="1452.0" r="3.4"/><circle cx="679.2" cy="1444.5" r="3.4"/><circle cx="600.3" cy="1442.8" r="3.4"/><circle cx="678.3" cy="1441.1" r="3.4"/><circle cx="682.9" cy="1389.4" r="3.4"/><circle cx="670.5" cy="1381.1" r="3.4"/><circle cx="636.2" cy="1468.1" r="3.4"/><circle cx="659.7" cy="1439.6" r="3.4"/><circle cx="607.9" cy="1395.6" r="3.4"/><circle cx="668.8" cy="1365.4" r="3.4"/><circle cx="646.0" cy="1458.3" r="3.4"/><circle cx="615.9" cy="1380.0" r="3.4"/><circle cx="620.9" cy="1461.6" r="3.4"/><circle cx="609.7" cy="1361.9" r="3.4"/><circle cx="686.7" cy="1360.5" r="3.4"/><circle cx="652.9" cy="1459.1" r="3.4"/><circle cx="682.0" cy="1466.5" r="3.4"/><circle cx="610.2" cy="1393.4" r="3.4"/><circle cx="671.5" cy="1458.8" r="3.4"/><circle cx="629.9" cy="1405.0" r="3.4"/><circle cx="644.3" cy="1415.7" r="3.4"/><circle cx="653.2" cy="1333.6" r="3.4"/><circle cx="672.1" cy="1372.0" r="3.4"/><circle cx="610.7" cy="1442.3" r="3.4"/><circle cx="604.9" cy="1400.0" r="3.4"/><circle cx="655.7" cy="1400.5" r="3.4"/><circle cx="636.4" cy="1382.5" r="3.4"/><circle cx="670.5" cy="1382.2" r="3.4"/><circle cx="660.6" cy="1419.9" r="3.4"/><circle cx="609" cy="1478.1" r="3.4"/><circle cx="657.6" cy="1430.3" r="3.4"/><circle cx="647.1" cy="1388.2" r="3.4"/><circle cx="654.6" cy="1394.7" r="3.4"/><circle cx="648.6" cy="1306.2" r="3.4"/><circle cx="604.1" cy="1386.7" r="3.4"/><circle cx="615.8" cy="1435.2" r="3.4"/><circle cx="646.7" cy="1453.5" r="3.4"/><circle cx="608.5" cy="1388.1" r="3.4"/><circle cx="619.6" cy="1431.1" r="3.4"/><circle cx="639.3" cy="1386.6" r="3.4"/><circle cx="672.7" cy="1426.6" r="3.4"/><circle cx="622.3" cy="1424.7" r="3.4"/><circle cx="685.0" cy="1436.9" r="3.4"/><circle cx="621.6" cy="1461.4" r="3.4"/><circle cx="674.1" cy="1328.3" r="3.4"/><circle cx="649.7" cy="1386.2" r="3.4"/><circle cx="671.2" cy="1326.2" r="3.4"/><circle cx="606.5" cy="1409.0" r="3.4"/><circle cx="608.8" cy="1362.9" r="3.4"/><circle cx="639.5" cy="1327.2" r="3.4"/><circle cx="671.7" cy="1426.1" r="3.4"/><circle cx="668.0" cy="1445.4" r="3.4"/><circle cx="677.5" cy="1439.4" r="3.4"/><circle cx="677.3" cy="1310.9" r="3.4"/><circle cx="652.1" cy="1370.9" r="3.4"/><circle cx="668.5" cy="1448.9" r="3.4"/><circle cx="681.3" cy="1460.1" r="3.4"/><circle cx="630.7" cy="1399.5" r="3.4"/><circle cx="671.0" cy="1455.4" r="3.4"/><circle cx="637.9" cy="1347.6" r="3.4"/></g>
<g fill="#b5b5b5"><circle cx="702.3" cy="1447.4" r="3.4"/><circle cx="757.3" cy="1326.5" r="3.4"/><circle cx="750.1" cy="1422.9" r="3.4"/><circle cx="708.7" cy="1346.6" r="3.4"/><circle cx="762" cy="1448.9" r="3.4"/><circle cx="725.5" cy="1446.8" r="3.4"/><circle cx="758.8" cy="1447.4" r="3.4"/><circle cx="723.0" cy="1416.7" r="3.4"/><circle cx="743.2" cy="1417.9" r="3.4"/><circle cx="753.1" cy="1399.8" r="3.4"/><circle cx="748.7" cy="1447.2" r="3.4"/><circle cx="754.1" cy="1404.3" r="3.4"/><circle cx="692.8" cy="1376.7" r="3.4"/><circle cx="737.5" cy="1438.1" r="3.4"/><circle cx="759.2" cy="1445.3" r="3.4"/><circle cx="707.8" cy="1399.3" r="3.4"/><circle cx="741.6" cy="1349.9" r="3.4"/><circle cx="728.8" cy="1436.3" r="3.4"/><circle cx="757.0" cy="1314.0" r="3.4"/><circle cx="742.9" cy="1467.9" r="3.4"/><circle cx="698.3" cy="1461.6" r="3.4"/><circle cx="718.1" cy="1420.2" r="3.4"/><circle cx="697.2" cy="1431.3" r="3.4"/><circle cx="753.0" cy="1402.9" r="3.4"/><circle cx="727.2" cy="1454.0" r="3.4"/><circle cx="759.5" cy="1310.6" r="3.4"/><circle cx="705.8" cy="1366.0" r="3.4"/><circle cx="722.4" cy="1462.3" r="3.4"/><circle cx="696.0" cy="1375.1" r="3.4"/><circle cx="706.4" cy="1361.2" r="3.4"/><circle cx="754.6" cy="1451.2" r="3.4"/><circle cx="699.9" cy="1331.3" r="3.4"/><circle cx="723.5" cy="1451.5" r="3.4"/><circle cx="737.2" cy="1300.6" r="3.4"/><circle cx="724.7" cy="1456.8" r="3.4"/><circle cx="745.2" cy="1472.2" r="3.4"/><circle cx="752.5" cy="1330.1" r="3.4"/><circle cx="707.2" cy="1459.5" r="3.4"/><circle cx="735.5" cy="1380.0" r="3.4"/><circle cx="699.2" cy="1466.9" r="3.4"/><circle cx="723.9" cy="1456.5" r="3.4"/><circle cx="748.6" cy="1441.3" r="3.4"/><circle cx="693.9" cy="1431.4" r="3.4"/><circle cx="750.2" cy="1352.4" r="3.4"/><circle cx="690.6" cy="1394.6" r="3.4"/><circle cx="721.3" cy="1458.6" r="3.4"/><circle cx="742" cy="1429.6" r="3.4"/><circle cx="726.7" cy="1455.6" r="3.4"/><circle cx="750.9" cy="1437.6" r="3.4"/><circle cx="721.8" cy="1351.9" r="3.4"/><circle cx="735.4" cy="1467.6" r="3.4"/><circle cx="727.7" cy="1321.5" r="3.4"/><circle cx="717.2" cy="1444.2" r="3.4"/><circle cx="699.5" cy="1359.0" r="3.4"/><circle cx="703.7" cy="1443.5" r="3.4"/><circle cx="752.8" cy="1431.7" r="3.4"/><circle cx="739.5" cy="1403.0" r="3.4"/><circle cx="737.3" cy="1456.1" r="3.4"/><circle cx="755.2" cy="1324.3" r="3.4"/><circle cx="716.5" cy="1373.5" r="3.4"/><circle cx="705.0" cy="1449.9" r="3.4"/><circle cx="757.2" cy="1421.8" r="3.4"/><circle cx="697.3" cy="1437.0" r="3.4"/><circle cx="717.5" cy="1382.9" r="3.4"/><circle cx="760.2" cy="1394.1" r="3.4"/><circle cx="692.3" cy="1412.3" r="3.4"/><circle cx="696.5" cy="1331.2" r="3.4"/><circle cx="740.1" cy="1355.5" r="3.4"/><circle cx="692.3" cy="1420.1" r="3.4"/><circle cx="721.0" cy="1417.2" r="3.4"/><circle cx="694.7" cy="1436.9" r="3.4"/><circle cx="723.7" cy="1357.2" r="3.4"/><circle cx="741.7" cy="1368.6" r="3.4"/><circle cx="756.4" cy="1398.3" r="3.4"/><circle cx="724.5" cy="1306.7" r="3.4"/><circle cx="733.2" cy="1311.2" r="3.4"/><circle cx="744.1" cy="1420.3" r="3.4"/><circle cx="749.9" cy="1442.9" r="3.4"/><circle cx="736.1" cy="1469.6" r="3.4"/><circle cx="724.3" cy="1419.8" r="3.4"/><circle cx="748.5" cy="1385.6" r="3.4"/><circle cx="743.9" cy="1357.9" r="3.4"/><circle cx="719.7" cy="1418.4" r="3.4"/><circle cx="756.4" cy="1322.9" r="3.4"/><circle cx="698.5" cy="1376.3" r="3.4"/><circle cx="753.7" cy="1428.4" r="3.4"/><circle cx="691.1" cy="1439.3" r="3.4"/><circle cx="741.4" cy="1425.3" r="3.4"/><circle cx="743.7" cy="1410.4" r="3.4"/><circle cx="758.0" cy="1458.5" r="3.4"/><circle cx="705.4" cy="1426.2" r="3.4"/><circle cx="690.6" cy="1452.5" r="3.4"/><circle cx="696.6" cy="1451.7" r="3.4"/><circle cx="747.6" cy="1345.6" r="3.4"/><circle cx="726.3" cy="1328.0" r="3.4"/><circle cx="747.7" cy="1383.4" r="3.4"/><circle cx="746.2" cy="1444.4" r="3.4"/><circle cx="757.1" cy="1439.8" r="3.4"/><circle cx="720.2" cy="1413.3" r="3.4"/><circle cx="715.8" cy="1447.9" r="3.4"/><circle cx="744.1" cy="1454.8" r="3.4"/><circle cx="753.0" cy="1463.4" r="3.4"/><circle cx="755.6" cy="1422.2" r="3.4"/><circle cx="740.7" cy="1429.7" r="3.4"/><circle cx="692.1" cy="1327.2" r="3.4"/><circle cx="719.4" cy="1464.3" r="3.4"/><circle cx="750.2" cy="1429.3" r="3.4"/><circle cx="755.9" cy="1421.0" r="3.4"/><circle cx="697.3" cy="1399.1" r="3.4"/><circle cx="748.9" cy="1461.7" r="3.4"/><circle cx="743.2" cy="1454.8" r="3.4"/><circle cx="710.4" cy="1403.2" r="3.4"/><circle cx="690.5" cy="1453.1" r="3.4"/><circle cx="729.2" cy="1324.1" r="3.4"/><circle cx="745.6" cy="1343.5" r="3.4"/><circle cx="719.7" cy="1431.4" r="3.4"/><circle cx="735.2" cy="1305.1" r="3.4"/><circle cx="745.3" cy="1379.1" r="3.4"/><circle cx="737.3" cy="1296.2" r="3.4"/><circle cx="687.9" cy="1448.4" r="3.4"/><circle cx="750.9" cy="1425.4" r="3.4"/><circle cx="749.1" cy="1380.1" r="3.4"/><circle cx="704.9" cy="1362.0" r="3.4"/><circle cx="753.1" cy="1419.9" r="3.4"/><circle cx="718.4" cy="1401.3" r="3.4"/><circle cx="718.8" cy="1398.1" r="3.4"/><circle cx="751.0" cy="1450.4" r="3.4"/><circle cx="743.5" cy="1450.3" r="3.4"/><circle cx="751.4" cy="1456.8" r="3.4"/><circle cx="742.0" cy="1409.3" r="3.4"/><circle cx="747.0" cy="1347.5" r="3.4"/><circle cx="755.4" cy="1410.6" r="3.4"/><circle cx="746.9" cy="1413.6" r="3.4"/><circle cx="703.8" cy="1445.4" r="3.4"/><circle cx="715.5" cy="1405.6" r="3.4"/><circle cx="716.6" cy="1395.2" r="3.4"/></g>
<g fill="#000"><circle cx="770.7" cy="1315.8" r="3.4"/><circle cx="783.3" cy="1411.1" r="3.4"/><circle cx="782" cy="1409.7" r="3.4"/><circle cx="807.0" cy="1400.1" r="3.4"/><circle cx="775.8" cy="1402.4" r="3.4"/><circle cx="778.1" cy="1394.4" r="3.4"/><circle cx="764.9" cy="1390.5" r="3.4"/><circle cx="782.4" cy="1465.6" r="3.4"/><circle cx="837.4" cy="1442.7" r="3.4"/><circle cx="834.3" cy="1458.4" r="3.4"/><circle cx="800.3" cy="1466.7" r="3.4"/><circle cx="768.0" cy="1409.6" r="3.4"/><circle cx="768.8" cy="1370.6" r="3.4"/><circle cx="783.2" cy="1345.3" r="3.4"/><circle cx="838.5" cy="1437.6" r="3.4"/><circle cx="817.7" cy="1393.4" r="3.4"/><circle cx="786.2" cy="1451.3" r="3.4"/><circle cx="772.1" cy="1443.2" r="3.4"/><circle cx="831.9" cy="1452.7" r="3.4"/><circle cx="818.1" cy="1455.0" r="3.4"/><circle cx="814.5" cy="1359.9" r="3.4"/><circle cx="785.6" cy="1405.3" r="3.4"/><circle cx="776.4" cy="1401.3" r="3.4"/><circle cx="797.3" cy="1412.9" r="3.4"/><circle cx="806.8" cy="1404.7" r="3.4"/><circle cx="835.4" cy="1407.6" r="3.4"/><circle cx="790.1" cy="1373.3" r="3.4"/><circle cx="782.3" cy="1358.5" r="3.4"/><circle cx="784.1" cy="1461.8" r="3.4"/><circle cx="779.0" cy="1457.4" r="3.4"/><circle cx="837.0" cy="1437.7" r="3.4"/><circle cx="778.4" cy="1422.7" r="3.4"/><circle cx="801.7" cy="1460.4" r="3.4"/><circle cx="800.2" cy="1382.6" r="3.4"/><circle cx="796.2" cy="1354.1" r="3.4"/><circle cx="822.1" cy="1453.9" r="3.4"/><circle cx="807.4" cy="1415.8" r="3.4"/><circle cx="823.7" cy="1332.0" r="3.4"/><circle cx="768.9" cy="1459.3" r="3.4"/><circle cx="775.8" cy="1398.1" r="3.4"/><circle cx="807.0" cy="1409.7" r="3.4"/><circle cx="831.3" cy="1402.3" r="3.4"/><circle cx="817.0" cy="1462.3" r="3.4"/><circle cx="769.0" cy="1379.8" r="3.4"/><circle cx="805.1" cy="1404.0" r="3.4"/><circle cx="821.4" cy="1463.2" r="3.4"/><circle cx="793.9" cy="1440.7" r="3.4"/><circle cx="808.7" cy="1437.5" r="3.4"/><circle cx="779.1" cy="1436.9" r="3.4"/><circle cx="823.2" cy="1433.0" r="3.4"/><circle cx="799.2" cy="1464.8" r="3.4"/><circle cx="781.3" cy="1376.0" r="3.4"/><circle cx="800.9" cy="1461.3" r="3.4"/><circle cx="773.5" cy="1453.3" r="3.4"/><circle cx="821.1" cy="1467.6" r="3.4"/><circle cx="779.5" cy="1430.9" r="3.4"/><circle cx="777.0" cy="1423.2" r="3.4"/><circle cx="809.9" cy="1408.7" r="3.4"/><circle cx="780.7" cy="1437.2" r="3.4"/><circle cx="775.3" cy="1447.8" r="3.4"/><circle cx="818.0" cy="1442.0" r="3.4"/><circle cx="819.5" cy="1379.3" r="3.4"/><circle cx="796.7" cy="1437.5" r="3.4"/><circle cx="790.9" cy="1441.4" r="3.4"/><circle cx="799.5" cy="1444.6" r="3.4"/><circle cx="777.7" cy="1325.0" r="3.4"/><circle cx="825.8" cy="1423.5" r="3.4"/><circle cx="803.2" cy="1336.1" r="3.4"/><circle cx="829.9" cy="1355.9" r="3.4"/><circle cx="782.9" cy="1375.6" r="3.4"/><circle cx="823.3" cy="1432.0" r="3.4"/><circle cx="813.4" cy="1379.3" r="3.4"/><circle cx="817.6" cy="1408.4" r="3.4"/><circle cx="821.1" cy="1375.6" r="3.4"/><circle cx="823.4" cy="1449.8" r="3.4"/><circle cx="797.3" cy="1393.1" r="3.4"/><circle cx="782.9" cy="1377.0" r="3.4"/><circle cx="806.7" cy="1442.3" r="3.4"/><circle cx="810.8" cy="1439.2" r="3.4"/><circle cx="770.0" cy="1334.8" r="3.4"/><circle cx="766.6" cy="1411.9" r="3.4"/><circle cx="779.0" cy="1427.3" r="3.4"/><circle cx="784.8" cy="1403.8" r="3.4"/><circle cx="829.9" cy="1446.9" r="3.4"/><circle cx="828.1" cy="1379.2" r="3.4"/><circle cx="797.2" cy="1389.5" r="3.4"/><circle cx="824.9" cy="1428.8" r="3.4"/><circle cx="779.9" cy="1389.1" r="3.4"/><circle cx="795.5" cy="1311.4" r="3.4"/><circle cx="820.4" cy="1456.0" r="3.4"/><circle cx="828.5" cy="1416.1" r="3.4"/><circle cx="784" cy="1377.0" r="3.4"/><circle cx="824.5" cy="1453.7" r="3.4"/><circle cx="815.6" cy="1450.5" r="3.4"/><circle cx="771.5" cy="1311.8" r="3.4"/><circle cx="768.4" cy="1463.0" r="3.4"/><circle cx="781.2" cy="1464.4" r="3.4"/><circle cx="796.4" cy="1410.9" r="3.4"/><circle cx="834.3" cy="1307.8" r="3.4"/><circle cx="821.4" cy="1424.5" r="3.4"/><circle cx="769.7" cy="1427.8" r="3.4"/><circle cx="798.3" cy="1445.1" r="3.4"/><circle cx="832.9" cy="1355.0" r="3.4"/><circle cx="814.3" cy="1456.6" r="3.4"/><circle cx="788.5" cy="1343.8" r="3.4"/><circle cx="822.8" cy="1320.7" r="3.4"/><circle cx="782.2" cy="1467.2" r="3.4"/><circle cx="813.8" cy="1362.6" r="3.4"/><circle cx="814.7" cy="1431.8" r="3.4"/><circle cx="782.5" cy="1369.8" r="3.4"/><circle cx="770" cy="1319.8" r="3.4"/><circle cx="784.1" cy="1432.9" r="3.4"/><circle cx="767.5" cy="1412.7" r="3.4"/><circle cx="764.7" cy="1434.2" r="3.4"/><circle cx="785.0" cy="1347.4" r="3.4"/><circle cx="832.0" cy="1350.6" r="3.4"/><circle cx="768.5" cy="1415.7" r="3.4"/><circle cx="807.6" cy="1432.2" r="3.4"/><circle cx="819.8" cy="1390.2" r="3.4"/><circle cx="781.7" cy="1385.7" r="3.4"/><circle cx="772" cy="1306.7" r="3.4"/><circle cx="811.4" cy="1366.0" r="3.4"/><circle cx="784" cy="1399.6" r="3.4"/><circle cx="779.2" cy="1447.5" r="3.4"/><circle cx="778.4" cy="1458.6" r="3.4"/><circle cx="806.5" cy="1330.0" r="3.4"/><circle cx="806.8" cy="1450.1" r="3.4"/><circle cx="771.9" cy="1419.1" r="3.4"/><circle cx="824.6" cy="1427.3" r="3.4"/><circle cx="777.9" cy="1445.3" r="3.4"/><circle cx="782.5" cy="1404.9" r="3.4"/><circle cx="818.9" cy="1390.8" r="3.4"/><circle cx="820.2" cy="1386.6" r="3.4"/><circle cx="806.2" cy="1334.2" r="3.4"/><circle cx="787.1" cy="1464.5" r="3.4"/><circle cx="779.0" cy="1401.7" r="3.4"/><circle cx="826.5" cy="1437.1" r="3.4"/><circle cx="766.5" cy="1448.0" r="3.4"/><circle cx="766.5" cy="1464.4" r="3.4"/><circle cx="782.0" cy="1366.9" r="3.4"/><circle cx="818.9" cy="1439.3" r="3.4"/><circle cx="778.6" cy="1425.4" r="3.4"/><circle cx="796.3" cy="1398.3" r="3.4"/><circle cx="773.5" cy="1335.1" r="3.4"/><circle cx="770.4" cy="1453.7" r="3.4"/><circle cx="817.6" cy="1461.1" r="3.4"/><circle cx="798.3" cy="1395.0" r="3.4"/><circle cx="818.7" cy="1379.6" r="3.4"/><circle cx="808.0" cy="1436.4" r="3.4"/><circle cx="784.1" cy="1420.4" r="3.4"/><circle cx="799.5" cy="1440.7" r="3.4"/><circle cx="805.6" cy="1333.1" r="3.4"/><circle cx="823.9" cy="1420.5" r="3.4"/><circle cx="772.0" cy="1318.9" r="3.4"/><circle cx="802.9" cy="1302.1" r="3.4"/><circle cx="819.8" cy="1361.6" r="3.4"/><circle cx="774.9" cy="1411.9" r="3.4"/><circle cx="777.2" cy="1446.0" r="3.4"/></g>
<g fill="#b5b5b5"><circle cx="891.0" cy="1375.9" r="3.4"/><circle cx="896.3" cy="1440.0" r="3.4"/><circle cx="872.6" cy="1408.0" r="3.4"/><circle cx="885.7" cy="1385.2" r="3.4"/><circle cx="852.3" cy="1461.7" r="3.4"/><circle cx="890.9" cy="1457.4" r="3.4"/><circle cx="850.5" cy="1447.4" r="3.4"/><circle cx="869.8" cy="1395.1" r="3.4"/><circle cx="868.0" cy="1434.4" r="3.4"/><circle cx="874.1" cy="1437.4" r="3.4"/><circle cx="878.4" cy="1352.4" r="3.4"/><circle cx="904.5" cy="1464.2" r="3.4"/><circle cx="875.8" cy="1452.2" r="3.4"/><circle cx="842.4" cy="1457.6" r="3.4"/><circle cx="899.7" cy="1440.8" r="3.4"/><circle cx="852.4" cy="1448.2" r="3.4"/><circle cx="891.6" cy="1330.3" r="3.4"/><circle cx="863.9" cy="1459.2" r="3.4"/><circle cx="891.4" cy="1374.8" r="3.4"/><circle cx="884.0" cy="1446.8" r="3.4"/><circle cx="898.7" cy="1396.7" r="3.4"/><circle cx="843.9" cy="1423.3" r="3.4"/><circle cx="890.1" cy="1370.5" r="3.4"/><circle cx="855.1" cy="1324.4" r="3.4"/><circle cx="861.2" cy="1462.4" r="3.4"/><circle cx="884.9" cy="1329.4" r="3.4"/><circle cx="877.6" cy="1451.5" r="3.4"/><circle cx="845.3" cy="1411.3" r="3.4"/><circle cx="859.2" cy="1433.5" r="3.4"/><circle cx="872" cy="1400.2" r="3.4"/><circle cx="885.3" cy="1427.0" r="3.4"/><circle cx="842.4" cy="1383.2" r="3.4"/><circle cx="837" cy="1351.2" r="3.4"/><circle cx="852.6" cy="1433.7" r="3.4"/><circle cx="854.5" cy="1392.2" r="3.4"/><circle cx="888.8" cy="1334.6" r="3.4"/><circle cx="841.2" cy="1374.3" r="3.4"/><circle cx="855.8" cy="1471.9" r="3.4"/><circle cx="837" cy="1450.3" r="3.4"/><circle cx="877.6" cy="1454.7" r="3.4"/><circle cx="855.5" cy="1466.6" r="3.4"/><circle cx="860.5" cy="1464.0" r="3.4"/><circle cx="856.8" cy="1457.0" r="3.4"/><circle cx="858.1" cy="1362.1" r="3.4"/><circle cx="898.9" cy="1427.8" r="3.4"/><circle cx="873.3" cy="1449.7" r="3.4"/><circle cx="865.7" cy="1442.9" r="3.4"/><circle cx="880.8" cy="1366.5" r="3.4"/><circle cx="890.3" cy="1415.5" r="3.4"/><circle cx="903.1" cy="1468.3" r="3.4"/><circle cx="883.4" cy="1386.1" r="3.4"/><circle cx="849.4" cy="1425.8" r="3.4"/><circle cx="895.7" cy="1426.8" r="3.4"/><circle cx="847.6" cy="1359.9" r="3.4"/><circle cx="893.3" cy="1455.8" r="3.4"/><circle cx="889.4" cy="1432.8" r="3.4"/><circle cx="864.9" cy="1432.7" r="3.4"/><circle cx="882.0" cy="1421.2" r="3.4"/><circle cx="855.5" cy="1468.1" r="3.4"/><circle cx="839.2" cy="1349.1" r="3.4"/><circle cx="839.8" cy="1376.7" r="3.4"/><circle cx="839.0" cy="1454.7" r="3.4"/><circle cx="871.9" cy="1461.5" r="3.4"/><circle cx="874.5" cy="1304.5" r="3.4"/><circle cx="886.8" cy="1427.2" r="3.4"/><circle cx="867.1" cy="1328.3" r="3.4"/><circle cx="867.8" cy="1461.7" r="3.4"/><circle cx="866.3" cy="1465.4" r="3.4"/><circle cx="847.2" cy="1423.1" r="3.4"/><circle cx="883.6" cy="1440.5" r="3.4"/><circle cx="893.0" cy="1441.7" r="3.4"/><circle cx="847.1" cy="1419.2" r="3.4"/><circle cx="850.2" cy="1430.0" r="3.4"/><circle cx="854.6" cy="1401.7" r="3.4"/><circle cx="897.8" cy="1428.5" r="3.4"/><circle cx="890.6" cy="1451.2" r="3.4"/><circle cx="875.6" cy="1351.9" r="3.4"/><circle cx="882.7" cy="1402.4" r="3.4"/><circle cx="861.1" cy="1384.1" r="3.4"/><circle cx="859.4" cy="1452.0" r="3.4"/><circle cx="880.6" cy="1450.7" r="3.4"/><circle cx="879.6" cy="1438.2" r="3.4"/><circle cx="863.8" cy="1462.6" r="3.4"/><circle cx="842.2" cy="1442.4" r="3.4"/><circle cx="838.6" cy="1376.3" r="3.4"/><circle cx="887.3" cy="1464.0" r="3.4"/><circle cx="855.4" cy="1405.2" r="3.4"/><circle cx="858.2" cy="1363.7" r="3.4"/><circle cx="875.0" cy="1349.6" r="3.4"/><circle cx="887.6" cy="1380.4" r="3.4"/><circle cx="873.9" cy="1389.5" r="3.4"/><circle cx="894.6" cy="1445.9" r="3.4"/><circle cx="866.9" cy="1425.7" r="3.4"/><circle cx="896.1" cy="1384.6" r="3.4"/><circle cx="869.6" cy="1354.1" r="3.4"/><circle cx="884.7" cy="1384.3" r="3.4"/><circle cx="888.0" cy="1425.9" r="3.4"/><circle cx="894.5" cy="1445.9" r="3.4"/><circle cx="866.1" cy="1423.9" r="3.4"/><circle cx="882.4" cy="1446.2" r="3.4"/><circle cx="900.7" cy="1470.1" r="3.4"/><circle cx="851.4" cy="1318.2" r="3.4"/><circle cx="899.3" cy="1464.4" r="3.4"/><circle cx="874.7" cy="1465.4" r="3.4"/><circle cx="877.5" cy="1439.0" r="3.4"/><circle cx="898.9" cy="1311.8" r="3.4"/><circle cx="843.6" cy="1451.8" r="3.4"/><circle cx="857.3" cy="1366.2" r="3.4"/><circle cx="837" cy="1450.2" r="3.4"/><circle cx="864.0" cy="1455.9" r="3.4"/><circle cx="870.4" cy="1403.4" r="3.4"/><circle cx="849.4" cy="1443.9" r="3.4"/><circle cx="890.1" cy="1419.8" r="3.4"/><circle cx="884.6" cy="1397.8" r="3.4"/><circle cx="893.6" cy="1330.8" r="3.4"/><circle cx="867.1" cy="1424.8" r="3.4"/></g>
<g fill="#000"><circle cx="959.5" cy="1407.3" r="3.4"/><circle cx="940.4" cy="1416.4" r="3.4"/><circle cx="909.0" cy="1401.7" r="3.4"/><circle cx="959.6" cy="1363.4" r="3.4"/><circle cx="949.5" cy="1464.2" r="3.4"/><circle cx="904" cy="1459.0" r="3.4"/><circle cx="909.9" cy="1445.7" r="3.4"/><circle cx="910.3" cy="1326.5" r="3.4"/><circle cx="917.3" cy="1453.9" r="3.4"/><circle cx="934.4" cy="1459.2" r="3.4"/><circle cx="929.1" cy="1365.0" r="3.4"/><circle cx="933.0" cy="1399.7" r="3.4"/><circle cx="917.8" cy="1447.3" r="3.4"/><circle cx="904" cy="1455.1" r="3.4"/><circle cx="930.3" cy="1354.2" r="3.4"/><circle cx="939.4" cy="1384.2" r="3.4"/><circle cx="959.9" cy="1322.6" r="3.4"/><circle cx="938.3" cy="1433.3" r="3.4"/><circle cx="906.2" cy="1401.8" r="3.4"/><circle cx="940.2" cy="1454.0" r="3.4"/><circle cx="906.5" cy="1396.5" r="3.4"/><circle cx="972.8" cy="1419.2" r="3.4"/><circle cx="961.5" cy="1344.8" r="3.4"/><circle cx="971.1" cy="1465.6" r="3.4"/><circle cx="968.3" cy="1426.6" r="3.4"/><circle cx="965.5" cy="1449.0" r="3.4"/><circle cx="951.9" cy="1404.0" r="3.4"/><circle cx="959.3" cy="1411.9" r="3.4"/><circle cx="944.5" cy="1440.4" r="3.4"/><circle cx="913.0" cy="1465.8" r="3.4"/><circle cx="965.1" cy="1432.8" r="3.4"/><circle cx="968.9" cy="1388.8" r="3.4"/><circle cx="943.3" cy="1319.4" r="3.4"/><circle cx="905.2" cy="1409.2" r="3.4"/><circle cx="955.0" cy="1376.8" r="3.4"/><circle cx="907.2" cy="1462.6" r="3.4"/><circle cx="954.5" cy="1436.7" r="3.4"/><circle cx="930.7" cy="1411.5" r="3.4"/><circle cx="952.2" cy="1460.1" r="3.4"/><circle cx="912.3" cy="1379.0" r="3.4"/><circle cx="965.7" cy="1398.9" r="3.4"/><circle cx="956.6" cy="1415.8" r="3.4"/><circle cx="951.1" cy="1343.7" r="3.4"/><circle cx="963.5" cy="1409.1" r="3.4"/><circle cx="914.8" cy="1441.9" r="3.4"/><circle cx="937.6" cy="1412.7" r="3.4"/><circle cx="959.7" cy="1463.3" r="3.4"/><circle cx="909.2" cy="1431.6" r="3.4"/><circle cx="916.9" cy="1434.4" r="3.4"/><circle cx="950.0" cy="1403.0" r="3.4"/><circle cx="934.1" cy="1415.0" r="3.4"/><circle cx="958.3" cy="1405.0" r="3.4"/><circle cx="964.2" cy="1435.9" r="3.4"/><circle cx="960.9" cy="1432.2" r="3.4"/><circle cx="933.2" cy="1352.4" r="3.4"/><circle cx="932.6" cy="1393.3" r="3.4"/><circle cx="913.6" cy="1436.6" r="3.4"/><circle cx="962.9" cy="1446.5" r="3.4"/><circle cx="958.4" cy="1406.8" r="3.4"/><circle cx="963.6" cy="1459.9" r="3.4"/><circle cx="915.7" cy="1360.4" r="3.4"/><circle cx="928.8" cy="1367.4" r="3.4"/><circle cx="947.5" cy="1405.2" r="3.4"/><circle cx="914.1" cy="1447.1" r="3.4"/><circle cx="913.0" cy="1334.3" r="3.4"/><circle cx="932.9" cy="1351.8" r="3.4"/><circle cx="929.7" cy="1374.6" r="3.4"/><circle cx="915.5" cy="1449.4" r="3.4"/><circle cx="960.7" cy="1446.7" r="3.4"/><circle cx="952.7" cy="1349.5" r="3.4"/><circle cx="907.9" cy="1455.9" r="3.4"/><circle cx="961.7" cy="1321.5" r="3.4"/><circle cx="928.2" cy="1421.0" r="3.4"/><circle cx="925.5" cy="1368.9" r="3.4"/><circle cx="935.9" cy="1467.2" r="3.4"/><circle cx="909.5" cy="1335.0" r="3.4"/><circle cx="922.8" cy="1458.6" r="3.4"/><circle cx="952.4" cy="1408.0" r="3.4"/><circle cx="920.2" cy="1385.0" r="3.4"/><circle cx="908.9" cy="1433.4" r="3.4"/><circle cx="931.8" cy="1369.6" r="3.4"/><circle cx="917.1" cy="1438.5" r="3.4"/><circle cx="947.3" cy="1453.0" r="3.4"/><circle cx="928.5" cy="1426.8" r="3.4"/><circle cx="905.3" cy="1414.8" r="3.4"/><circle cx="957" cy="1468.9" r="3.4"/><circle cx="954.3" cy="1378.3" r="3.4"/><circle cx="940.4" cy="1315.4" r="3.4"/><circle cx="929.7" cy="1396.2" r="3.4"/><circle cx="959.4" cy="1377.5" r="3.4"/><circle cx="909.0" cy="1451.4" r="3.4"/><circle cx="919.5" cy="1387.5" r="3.4"/><circle cx="938.7" cy="1429.3" r="3.4"/><circle cx="937.7" cy="1427.5" r="3.4"/><circle cx="970.1" cy="1455.3" r="3.4"/><circle cx="946.8" cy="1455.3" r="3.4"/><circle cx="933.9" cy="1466.5" r="3.4"/><circle cx="959.1" cy="1316.6" r="3.4"/><circle cx="917.1" cy="1451.5" r="3.4"/><circle cx="913.7" cy="1428.0" r="3.4"/><circle cx="915.1" cy="1441.4" r="3.4"/><circle cx="956.5" cy="1399.7" r="3.4"/><circle cx="927.2" cy="1347.9" r="3.4"/><circle cx="943.7" cy="1443.1" r="3.4"/><circle cx="927.3" cy="1302.8" r="3.4"/><circle cx="932.2" cy="1398.0" r="3.4"/><circle cx="963.5" cy="1349.2" r="3.4"/><circle cx="943.7" cy="1427.0" r="3.4"/><circle cx="938.9" cy="1429.1" r="3.4"/><circle cx="921.5" cy="1466.8" r="3.4"/><circle cx="927.4" cy="1416.0" r="3.4"/><circle cx="928.0" cy="1367.8" r="3.4"/><circle cx="959" cy="1398.9" r="3.4"/><circle cx="923.4" cy="1448.3" r="3.4"/><circle cx="917.5" cy="1437.3" r="3.4"/><circle cx="954.4" cy="1313.4" r="3.4"/><circle cx="910.8" cy="1446.8" r="3.4"/><circle cx="951.1" cy="1374.4" r="3.4"/><circle cx="907.8" cy="1399.3" r="3.4"/><circle cx="965.7" cy="1437.4" r="3.4"/><circle cx="911.8" cy="1373.2" r="3.4"/><circle cx="954.9" cy="1375.1" r="3.4"/><circle cx="933.0" cy="1435.4" r="3.4"/><circle cx="911.1" cy="1332.6" r="3.4"/><circle cx="913.8" cy="1359.3" r="3.4"/><circle cx="968.1" cy="1454.6" r="3.4"/><circle cx="909.0" cy="1352.0" r="3.4"/><circle cx="958.5" cy="1396.5" r="3.4"/><circle cx="968.8" cy="1442.2" r="3.4"/><circle cx="908.8" cy="1435.1" r="3.4"/><circle cx="911.2" cy="1331.5" r="3.4"/><circle cx="952.4" cy="1309.9" r="3.4"/><circle cx="931.7" cy="1446.7" r="3.4"/><circle cx="922.9" cy="1454.3" r="3.4"/><circle cx="917.0" cy="1449.8" r="3.4"/><circle cx="935.4" cy="1352.0" r="3.4"/><circle cx="959.4" cy="1376.5" r="3.4"/><circle cx="912.0" cy="1408.1" r="3.4"/><circle cx="970.0" cy="1326.8" r="3.4"/><circle cx="940.5" cy="1319.4" r="3.4"/><circle cx="907.4" cy="1332.6" r="3.4"/></g>
<g fill="#b5b5b5"><circle cx="1026.5" cy="1332.1" r="3.4"/><circle cx="1025.9" cy="1432.8" r="3.4"/><circle cx="1010.9" cy="1438.0" r="3.4"/><circle cx="1007.7" cy="1353.5" r="3.4"/><circle cx="995.8" cy="1447.1" r="3.4"/><circle cx="986.1" cy="1407.2" r="3.4"/><circle cx="980.5" cy="1390.7" r="3.4"/><circle cx="974.3" cy="1366.1" r="3.4"/><circle cx="974.7" cy="1429.4" r="3.4"/><circle cx="987.1" cy="1388.5" r="3.4"/><circle cx="1022.5" cy="1379.5" r="3.4"/><circle cx="1023.0" cy="1446.8" r="3.4"/><circle cx="1023.4" cy="1390.4" r="3.4"/><circle cx="1015.3" cy="1456.8" r="3.4"/><circle cx="984.1" cy="1403.1" r="3.4"/><circle cx="1007.3" cy="1340.6" r="3.4"/><circle cx="982.0" cy="1408.8" r="3.4"/><circle cx="977.4" cy="1464.7" r="3.4"/><circle cx="1020.1" cy="1374.2" r="3.4"/><circle cx="1009.7" cy="1420.4" r="3.4"/><circle cx="1015.4" cy="1413.4" r="3.4"/><circle cx="1025.7" cy="1333.3" r="3.4"/><circle cx="1005.1" cy="1468.8" r="3.4"/><circle cx="1022.0" cy="1388.9" r="3.4"/><circle cx="976.4" cy="1364.2" r="3.4"/><circle cx="1013.7" cy="1451.0" r="3.4"/><circle cx="1025.6" cy="1338.3" r="3.4"/><circle cx="1005.3" cy="1459.2" r="3.4"/><circle cx="1004.9" cy="1405.5" r="3.4"/><circle cx="1023.2" cy="1319.9" r="3.4"/><circle cx="1008.3" cy="1465.9" r="3.4"/><circle cx="1022.6" cy="1440.8" r="3.4"/><circle cx="1024.4" cy="1393.5" r="3.4"/><circle cx="996.0" cy="1450.5" r="3.4"/><circle cx="984.6" cy="1398.1" r="3.4"/><circle cx="1023.8" cy="1441.2" r="3.4"/><circle cx="1015.2" cy="1462.1" r="3.4"/><circle cx="1004.7" cy="1341.5" r="3.4"/><circle cx="974.0" cy="1433.9" r="3.4"/><circle cx="999.5" cy="1423.5" r="3.4"/><circle cx="1027.0" cy="1338.5" r="3.4"/><circle cx="977.1" cy="1422.2" r="3.4"/><circle cx="1006.4" cy="1462.4" r="3.4"/><circle cx="983.9" cy="1392.4" r="3.4"/><circle cx="980.5" cy="1328.3" r="3.4"/><circle cx="1016.3" cy="1450.4" r="3.4"/><circle cx="1015.0" cy="1456.8" r="3.4"/><circle cx="1007.4" cy="1415.8" r="3.4"/><circle cx="1013.4" cy="1398.6" r="3.4"/><circle cx="983.7" cy="1404.7" r="3.4"/><circle cx="973" cy="1430.5" r="3.4"/><circle cx="1014.3" cy="1420.9" r="3.4"/><circle cx="1007.9" cy="1461.5" r="3.4"/><circle cx="979.3" cy="1453.9" r="3.4"/><circle cx="1001.0" cy="1368.4" r="3.4"/><circle cx="1008.3" cy="1346.2" r="3.4"/><circle cx="985.2" cy="1443.6" r="3.4"/><circle cx="1006.9" cy="1463.4" r="3.4"/><circle cx="1016.0" cy="1415.4" r="3.4"/></g>
<g fill="#000"><circle cx="1057.6" cy="1459.2" r="3.4"/><circle cx="1045.4" cy="1432.0" r="3.4"/><circle cx="1046.6" cy="1441.8" r="3.4"/><circle cx="1080.3" cy="1405.1" r="3.4"/><circle cx="1049.8" cy="1446.2" r="3.4"/><circle cx="1046.7" cy="1341.1" r="3.4"/><circle cx="1062.1" cy="1372.4" r="3.4"/><circle cx="1056.5" cy="1454.4" r="3.4"/><circle cx="1079.4" cy="1416.4" r="3.4"/><circle cx="1046.1" cy="1409.5" r="3.4"/><circle cx="1089.5" cy="1328.6" r="3.4"/><circle cx="1047.1" cy="1363.0" r="3.4"/><circle cx="1065.8" cy="1301.6" r="3.4"/><circle cx="1065.5" cy="1369.7" r="3.4"/><circle cx="1059.7" cy="1350.0" r="3.4"/><circle cx="1054.8" cy="1424.8" r="3.4"/><circle cx="1082.6" cy="1433.4" r="3.4"/><circle cx="1043.8" cy="1396.0" r="3.4"/><circle cx="1055.0" cy="1415.3" r="3.4"/><circle cx="1057.6" cy="1325.2" r="3.4"/><circle cx="1044.6" cy="1304.5" r="3.4"/><circle cx="1044.4" cy="1336.6" r="3.4"/><circle cx="1070.2" cy="1436.7" r="3.4"/><circle cx="1036.9" cy="1449.1" r="3.4"/><circle cx="1049" cy="1438.8" r="3.4"/><circle cx="1043.5" cy="1429.5" r="3.4"/><circle cx="1066.8" cy="1466.1" r="3.4"/><circle cx="1037.0" cy="1458.6" r="3.4"/><circle cx="1091.6" cy="1457.7" r="3.4"/><circle cx="1038.0" cy="1472.1" r="3.4"/><circle cx="1057.7" cy="1358.0" r="3.4"/><circle cx="1078.6" cy="1436.4" r="3.4"/><circle cx="1059.4" cy="1460.2" r="3.4"/><circle cx="1089.1" cy="1343.6" r="3.4"/><circle cx="1082.9" cy="1415.0" r="3.4"/><circle cx="1082.3" cy="1390.3" r="3.4"/><circle cx="1039.6" cy="1383.3" r="3.4"/><circle cx="1039.1" cy="1424.3" r="3.4"/><circle cx="1078.0" cy="1394.9" r="3.4"/><circle cx="1047.7" cy="1308.8" r="3.4"/><circle cx="1057.7" cy="1450.0" r="3.4"/><circle cx="1048.9" cy="1467.4" r="3.4"/><circle cx="1044.9" cy="1413.7" r="3.4"/><circle cx="1033.5" cy="1404.8" r="3.4"/><circle cx="1051" cy="1416.6" r="3.4"/><circle cx="1078.7" cy="1396.8" r="3.4"/><circle cx="1077.3" cy="1368.4" r="3.4"/><circle cx="1045.8" cy="1453.0" r="3.4"/><circle cx="1060.8" cy="1413.5" r="3.4"/><circle cx="1051.5" cy="1436.6" r="3.4"/><circle cx="1072.2" cy="1452.9" r="3.4"/><circle cx="1065.9" cy="1461.2" r="3.4"/><circle cx="1035.9" cy="1361.5" r="3.4"/><circle cx="1067.5" cy="1443.6" r="3.4"/><circle cx="1080.3" cy="1363.2" r="3.4"/><circle cx="1088.6" cy="1332.9" r="3.4"/><circle cx="1047.5" cy="1416.9" r="3.4"/><circle cx="1043.8" cy="1411.6" r="3.4"/><circle cx="1043.1" cy="1454.2" r="3.4"/><circle cx="1077.9" cy="1450.9" r="3.4"/><circle cx="1086.4" cy="1355.0" r="3.4"/><circle cx="1078.0" cy="1432.3" r="3.4"/><circle cx="1090.8" cy="1327.2" r="3.4"/><circle cx="1047.2" cy="1393.2" r="3.4"/><circle cx="1066.9" cy="1464.3" r="3.4"/><circle cx="1088.2" cy="1338.7" r="3.4"/><circle cx="1090.7" cy="1333.3" r="3.4"/><circle cx="1048.6" cy="1425.1" r="3.4"/><circle cx="1062.1" cy="1366.7" r="3.4"/><circle cx="1085.5" cy="1347.8" r="3.4"/><circle cx="1066.4" cy="1398.6" r="3.4"/><circle cx="1059.5" cy="1411.1" r="3.4"/><circle cx="1056.1" cy="1419.9" r="3.4"/><circle cx="1074.5" cy="1448.7" r="3.4"/><circle cx="1053.2" cy="1434.9" r="3.4"/><circle cx="1088.4" cy="1341.6" r="3.4"/><circle cx="1039.0" cy="1328.0" r="3.4"/><circle cx="1083.3" cy="1353.3" r="3.4"/><circle cx="1043.0" cy="1413.0" r="3.4"/><circle cx="1082.7" cy="1439.4" r="3.4"/><circle cx="1079.7" cy="1361.3" r="3.4"/><circle cx="1051.3" cy="1383.0" r="3.4"/><circle cx="1085.4" cy="1349.9" r="3.4"/><circle cx="1074.8" cy="1377.8" r="3.4"/><circle cx="1030.0" cy="1456.1" r="3.4"/><circle cx="1052.0" cy="1427.1" r="3.4"/><circle cx="1048.9" cy="1421.3" r="3.4"/><circle cx="1037.1" cy="1443.9" r="3.4"/><circle cx="1069" cy="1437.3" r="3.4"/><circle cx="1041.3" cy="1472.6" r="3.4"/><circle cx="1086.6" cy="1336.1" r="3.4"/><circle cx="1054.8" cy="1446.6" r="3.4"/><circle cx="1084.7" cy="1419.9" r="3.4"/><circle cx="1049.8" cy="1388.7" r="3.4"/><circle cx="1081.0" cy="1394.2" r="3.4"/><circle cx="1047.9" cy="1417.4" r="3.4"/><circle cx="1075.8" cy="1450.0" r="3.4"/><circle cx="1050.0" cy="1401.6" r="3.4"/><circle cx="1044.8" cy="1415.1" r="3.4"/><circle cx="1084.5" cy="1453.6" r="3.4"/><circle cx="1046.1" cy="1396.2" r="3.4"/><circle cx="1079.1" cy="1453.2" r="3.4"/><circle cx="1036.0" cy="1437.3" r="3.4"/><circle cx="1083.3" cy="1466.4" r="3.4"/><circle cx="1077.1" cy="1462.9" r="3.4"/><circle cx="1031.1" cy="1453.2" r="3.4"/><circle cx="1081.8" cy="1305.2" r="3.4"/><circle cx="1031.2" cy="1346.6" r="3.4"/><circle cx="1081.2" cy="1398.7" r="3.4"/><circle cx="1075.9" cy="1459.5" r="3.4"/><circle cx="1086.8" cy="1450.6" r="3.4"/><circle cx="1056.5" cy="1346.3" r="3.4"/><circle cx="1049.5" cy="1420.8" r="3.4"/><circle cx="1056.3" cy="1450.3" r="3.4"/><circle cx="1080.4" cy="1412.4" r="3.4"/><circle cx="1042.0" cy="1415.5" r="3.4"/><circle cx="1034.5" cy="1358.4" r="3.4"/><circle cx="1061.1" cy="1463.3" r="3.4"/><circle cx="1040.9" cy="1466.2" r="3.4"/><circle cx="1076.9" cy="1428.5" r="3.4"/><circle cx="1090.5" cy="1385.7" r="3.4"/><circle cx="1034.1" cy="1457.5" r="3.4"/><circle cx="1070.0" cy="1441.7" r="3.4"/><circle cx="1079.1" cy="1357.0" r="3.4"/><circle cx="1072.7" cy="1463.8" r="3.4"/><circle cx="1056.6" cy="1413.5" r="3.4"/><circle cx="1033.0" cy="1401.2" r="3.4"/><circle cx="1081.4" cy="1441.6" r="3.4"/><circle cx="1042.1" cy="1465.4" r="3.4"/><circle cx="1033.8" cy="1352.1" r="3.4"/><circle cx="1080.2" cy="1445.4" r="3.4"/><circle cx="1061.4" cy="1390.3" r="3.4"/><circle cx="1059.7" cy="1376.8" r="3.4"/><circle cx="1040.3" cy="1417.9" r="3.4"/><circle cx="1052.3" cy="1396.4" r="3.4"/><circle cx="1064.0" cy="1386.3" r="3.4"/><circle cx="1039.6" cy="1435.2" r="3.4"/><circle cx="1060.7" cy="1458.6" r="3.4"/><circle cx="1069" cy="1440.8" r="3.4"/><circle cx="1070.3" cy="1425.2" r="3.4"/><circle cx="1040.4" cy="1460.8" r="3.4"/><circle cx="1054.2" cy="1399.9" r="3.4"/><circle cx="1082.2" cy="1358.2" r="3.4"/><circle cx="1053.1" cy="1463.9" r="3.4"/><circle cx="1034.3" cy="1373.2" r="3.4"/></g>
<g fill="#b5b5b5"><circle cx="1144.8" cy="1359.5" r="3.4"/><circle cx="1104.4" cy="1464.6" r="3.4"/><circle cx="1136.3" cy="1373.1" r="3.4"/><circle cx="1124.3" cy="1465.7" r="3.4"/><circle cx="1113.9" cy="1455.3" r="3.4"/><circle cx="1144.3" cy="1406.1" r="3.4"/><circle cx="1122.3" cy="1445.8" r="3.4"/><circle cx="1094.1" cy="1398.7" r="3.4"/><circle cx="1121.4" cy="1348.6" r="3.4"/><circle cx="1105.5" cy="1406.0" r="3.4"/><circle cx="1095.0" cy="1403.9" r="3.4"/><circle cx="1098.9" cy="1447.0" r="3.4"/><circle cx="1136.5" cy="1441.9" r="3.4"/><circle cx="1127.3" cy="1441.1" r="3.4"/><circle cx="1144.9" cy="1355.0" r="3.4"/><circle cx="1101.0" cy="1441.1" r="3.4"/><circle cx="1142.2" cy="1459.7" r="3.4"/><circle cx="1099.5" cy="1408.4" r="3.4"/><circle cx="1139.7" cy="1444.5" r="3.4"/><circle cx="1132.9" cy="1441.8" r="3.4"/><circle cx="1108.3" cy="1341.8" r="3.4"/><circle cx="1119.2" cy="1450.8" r="3.4"/><circle cx="1099.3" cy="1403.7" r="3.4"/><circle cx="1106.9" cy="1323.1" r="3.4"/><circle cx="1122.6" cy="1458.0" r="3.4"/><circle cx="1103.5" cy="1449.9" r="3.4"/><circle cx="1132.6" cy="1379.6" r="3.4"/><circle cx="1124.6" cy="1449.5" r="3.4"/><circle cx="1094.0" cy="1422.6" r="3.4"/><circle cx="1121.3" cy="1455.1" r="3.4"/><circle cx="1118.1" cy="1460.4" r="3.4"/><circle cx="1127.4" cy="1360.6" r="3.4"/><circle cx="1122.7" cy="1455.3" r="3.4"/><circle cx="1128.6" cy="1359.9" r="3.4"/><circle cx="1099.0" cy="1439.9" r="3.4"/><circle cx="1107.5" cy="1460.4" r="3.4"/><circle cx="1112.6" cy="1329.2" r="3.4"/><circle cx="1111.8" cy="1421.8" r="3.4"/><circle cx="1134.7" cy="1428.3" r="3.4"/><circle cx="1133.1" cy="1383.4" r="3.4"/><circle cx="1131.0" cy="1464.8" r="3.4"/><circle cx="1129.5" cy="1399.8" r="3.4"/><circle cx="1128.7" cy="1424.4" r="3.4"/><circle cx="1134.9" cy="1450.2" r="3.4"/><circle cx="1125.2" cy="1386.1" r="3.4"/><circle cx="1118.4" cy="1455.0" r="3.4"/><circle cx="1143.4" cy="1401.3" r="3.4"/><circle cx="1112.2" cy="1441.5" r="3.4"/><circle cx="1117.9" cy="1371.7" r="3.4"/><circle cx="1147.5" cy="1357.0" r="3.4"/><circle cx="1147.5" cy="1354.3" r="3.4"/><circle cx="1100.8" cy="1441.7" r="3.4"/><circle cx="1117.3" cy="1453.8" r="3.4"/><circle cx="1124.5" cy="1364.0" r="3.4"/><circle cx="1133.6" cy="1391.4" r="3.4"/><circle cx="1104.5" cy="1371.9" r="3.4"/><circle cx="1138.1" cy="1415.5" r="3.4"/><circle cx="1131.5" cy="1384.0" r="3.4"/><circle cx="1097.7" cy="1398.4" r="3.4"/><circle cx="1108.2" cy="1443.5" r="3.4"/><circle cx="1101.5" cy="1353.6" r="3.4"/><circle cx="1131.0" cy="1380.3" r="3.4"/><circle cx="1120.5" cy="1415.0" r="3.4"/><circle cx="1103.3" cy="1380.8" r="3.4"/><circle cx="1131.6" cy="1431.7" r="3.4"/><circle cx="1142.7" cy="1465.7" r="3.4"/><circle cx="1139.6" cy="1458.1" r="3.4"/><circle cx="1111.2" cy="1422.5" r="3.4"/><circle cx="1099.2" cy="1301.4" r="3.4"/><circle cx="1120.4" cy="1435.9" r="3.4"/><circle cx="1133" cy="1416.0" r="3.4"/><circle cx="1127.7" cy="1463.1" r="3.4"/><circle cx="1134.7" cy="1410.3" r="3.4"/><circle cx="1134.7" cy="1447.9" r="3.4"/><circle cx="1124.8" cy="1419.4" r="3.4"/><circle cx="1125.1" cy="1440.0" r="3.4"/><circle cx="1114.8" cy="1466.4" r="3.4"/><circle cx="1138.8" cy="1389.2" r="3.4"/><circle cx="1105.7" cy="1449.0" r="3.4"/><circle cx="1138.6" cy="1387.9" r="3.4"/><circle cx="1103.9" cy="1454.8" r="3.4"/><circle cx="1125.9" cy="1452.1" r="3.4"/><circle cx="1115.6" cy="1428.1" r="3.4"/><circle cx="1102.6" cy="1376.1" r="3.4"/><circle cx="1117.7" cy="1457.7" r="3.4"/><circle cx="1117.2" cy="1468.1" r="3.4"/><circle cx="1129.6" cy="1405.9" r="3.4"/><circle cx="1129.4" cy="1408.9" r="3.4"/><circle cx="1133.1" cy="1423.4" r="3.4"/><circle cx="1115.6" cy="1377.7" r="3.4"/><circle cx="1100.8" cy="1301.6" r="3.4"/><circle cx="1134.0" cy="1395.1" r="3.4"/><circle cx="1115.7" cy="1454.0" r="3.4"/><circle cx="1112.3" cy="1442.8" r="3.4"/><circle cx="1134.3" cy="1332.5" r="3.4"/><circle cx="1125.2" cy="1457.1" r="3.4"/><circle cx="1112.8" cy="1461.8" r="3.4"/><circle cx="1121.7" cy="1300.3" r="3.4"/><circle cx="1123.2" cy="1429.6" r="3.4"/><circle cx="1122.8" cy="1420.0" r="3.4"/><circle cx="1115.4" cy="1467.8" r="3.4"/><circle cx="1108.7" cy="1437.4" r="3.4"/><circle cx="1101.9" cy="1467.0" r="3.4"/></g>
<g fill="#000"><circle cx="1170.7" cy="1417.2" r="3.4"/><circle cx="1194.5" cy="1359.1" r="3.4"/><circle cx="1191.5" cy="1353.9" r="3.4"/><circle cx="1186.8" cy="1397.1" r="3.4"/><circle cx="1180.7" cy="1380.8" r="3.4"/><circle cx="1206.0" cy="1433.2" r="3.4"/><circle cx="1165.2" cy="1431.9" r="3.4"/><circle cx="1153.6" cy="1437.6" r="3.4"/><circle cx="1166.8" cy="1333.5" r="3.4"/><circle cx="1199.4" cy="1438.2" r="3.4"/><circle cx="1194.0" cy="1437.9" r="3.4"/><circle cx="1164.5" cy="1432.2" r="3.4"/><circle cx="1148.2" cy="1467.9" r="3.4"/><circle cx="1199.6" cy="1433.9" r="3.4"/><circle cx="1195.8" cy="1419.3" r="3.4"/><circle cx="1185.0" cy="1336.6" r="3.4"/><circle cx="1202.4" cy="1341.5" r="3.4"/><circle cx="1169.4" cy="1442.6" r="3.4"/><circle cx="1208.3" cy="1444.3" r="3.4"/><circle cx="1169.2" cy="1385.4" r="3.4"/><circle cx="1163.2" cy="1328.4" r="3.4"/><circle cx="1183.4" cy="1441.6" r="3.4"/><circle cx="1202.8" cy="1362.7" r="3.4"/><circle cx="1171.5" cy="1368.4" r="3.4"/><circle cx="1162.5" cy="1442.0" r="3.4"/><circle cx="1163.1" cy="1324.1" r="3.4"/><circle cx="1150.3" cy="1438.0" r="3.4"/><circle cx="1206.9" cy="1449.0" r="3.4"/><circle cx="1145.5" cy="1450.7" r="3.4"/><circle cx="1206.3" cy="1347.2" r="3.4"/><circle cx="1180.9" cy="1435.5" r="3.4"/><circle cx="1148.4" cy="1359.0" r="3.4"/><circle cx="1169.6" cy="1464.5" r="3.4"/><circle cx="1171.4" cy="1418.7" r="3.4"/><circle cx="1202.7" cy="1389.2" r="3.4"/><circle cx="1188.4" cy="1439.4" r="3.4"/><circle cx="1192.6" cy="1450.1" r="3.4"/><circle cx="1203.4" cy="1415.2" r="3.4"/><circle cx="1169.9" cy="1444.7" r="3.4"/><circle cx="1208.5" cy="1314.7" r="3.4"/><circle cx="1155.8" cy="1394.3" r="3.4"/><circle cx="1195.8" cy="1449.7" r="3.4"/><circle cx="1201.6" cy="1431.4" r="3.4"/><circle cx="1197.0" cy="1445.5" r="3.4"/><circle cx="1194.4" cy="1443.3" r="3.4"/><circle cx="1192.2" cy="1453.5" r="3.4"/><circle cx="1192.0" cy="1439.1" r="3.4"/><circle cx="1198.6" cy="1466.0" r="3.4"/><circle cx="1188.8" cy="1370.5" r="3.4"/><circle cx="1197.0" cy="1420.2" r="3.4"/><circle cx="1189.0" cy="1404.7" r="3.4"/><circle cx="1205.6" cy="1446.6" r="3.4"/><circle cx="1160.1" cy="1370.0" r="3.4"/><circle cx="1146.0" cy="1361.8" r="3.4"/><circle cx="1200.5" cy="1433.0" r="3.4"/><circle cx="1172.7" cy="1410.7" r="3.4"/><circle cx="1198.7" cy="1446.2" r="3.4"/><circle cx="1162.0" cy="1383.5" r="3.4"/><circle cx="1201.8" cy="1441.0" r="3.4"/><circle cx="1211.2" cy="1449.4" r="3.4"/><circle cx="1153.7" cy="1440.2" r="3.4"/><circle cx="1158.2" cy="1415.1" r="3.4"/><circle cx="1148.3" cy="1351.4" r="3.4"/><circle cx="1197.6" cy="1442.0" r="3.4"/><circle cx="1168.1" cy="1369.8" r="3.4"/><circle cx="1194.6" cy="1408.8" r="3.4"/><circle cx="1194.3" cy="1417.8" r="3.4"/><circle cx="1174.4" cy="1359.7" r="3.4"/><circle cx="1176.7" cy="1403.3" r="3.4"/><circle cx="1203.6" cy="1349.7" r="3.4"/><circle cx="1159.8" cy="1446.2" r="3.4"/><circle cx="1189.7" cy="1433.1" r="3.4"/><circle cx="1160.7" cy="1324.3" r="3.4"/><circle cx="1197.0" cy="1464.1" r="3.4"/><circle cx="1200.2" cy="1425.7" r="3.4"/><circle cx="1179.6" cy="1454.4" r="3.4"/><circle cx="1189.6" cy="1373.5" r="3.4"/><circle cx="1196.4" cy="1447.8" r="3.4"/><circle cx="1159.6" cy="1427.9" r="3.4"/><circle cx="1203.9" cy="1433.4" r="3.4"/><circle cx="1155.7" cy="1432.9" r="3.4"/><circle cx="1183.9" cy="1398.8" r="3.4"/><circle cx="1196.5" cy="1461.6" r="3.4"/><circle cx="1209.4" cy="1453.0" r="3.4"/><circle cx="1208.7" cy="1379.9" r="3.4"/><circle cx="1172.6" cy="1319.5" r="3.4"/><circle cx="1201.6" cy="1435.6" r="3.4"/><circle cx="1149.4" cy="1466.2" r="3.4"/><circle cx="1200.7" cy="1390.9" r="3.4"/><circle cx="1199.7" cy="1441.2" r="3.4"/><circle cx="1147.7" cy="1454.3" r="3.4"/><circle cx="1151.8" cy="1463.7" r="3.4"/><circle cx="1173.2" cy="1425.9" r="3.4"/><circle cx="1162.1" cy="1409.8" r="3.4"/><circle cx="1151.2" cy="1310.4" r="3.4"/><circle cx="1179.5" cy="1458.3" r="3.4"/><circle cx="1149.6" cy="1458.5" r="3.4"/><circle cx="1197.0" cy="1464.5" r="3.4"/><circle cx="1195.8" cy="1467.3" r="3.4"/><circle cx="1209.8" cy="1452.2" r="3.4"/><circle cx="1191.6" cy="1382.4" r="3.4"/><circle cx="1195.0" cy="1455.2" r="3.4"/><circle cx="1203.6" cy="1358.9" r="3.4"/><circle cx="1146.5" cy="1442.6" r="3.4"/><circle cx="1206.8" cy="1429.9" r="3.4"/><circle cx="1164" cy="1431.6" r="3.4"/><circle cx="1196.5" cy="1439.9" r="3.4"/><circle cx="1147.2" cy="1364.3" r="3.4"/><circle cx="1148.9" cy="1421.8" r="3.4"/><circle cx="1193.1" cy="1445.8" r="3.4"/><circle cx="1194.7" cy="1434.0" r="3.4"/><circle cx="1211.5" cy="1448.6" r="3.4"/><circle cx="1151.7" cy="1458.7" r="3.4"/><circle cx="1170.4" cy="1420.2" r="3.4"/><circle cx="1179.9" cy="1463.3" r="3.4"/><circle cx="1196.5" cy="1461.6" r="3.4"/><circle cx="1184.1" cy="1459.9" r="3.4"/><circle cx="1162.3" cy="1388.3" r="3.4"/><circle cx="1181.6" cy="1453.3" r="3.4"/><circle cx="1159.0" cy="1445.3" r="3.4"/><circle cx="1191.9" cy="1449.1" r="3.4"/><circle cx="1205.1" cy="1311.1" r="3.4"/><circle cx="1163.6" cy="1407.6" r="3.4"/><circle cx="1161.0" cy="1406.7" r="3.4"/><circle cx="1201.5" cy="1457.2" r="3.4"/><circle cx="1192.9" cy="1443.3" r="3.4"/><circle cx="1155.4" cy="1420.6" r="3.4"/><circle cx="1162.6" cy="1428.4" r="3.4"/><circle cx="1203.7" cy="1315.2" r="3.4"/><circle cx="1190.3" cy="1437.7" r="3.4"/><circle cx="1195.6" cy="1457.0" r="3.4"/><circle cx="1161.0" cy="1428.6" r="3.4"/><circle cx="1195.7" cy="1471.1" r="3.4"/><circle cx="1181.7" cy="1439.0" r="3.4"/><circle cx="1153.6" cy="1449.5" r="3.4"/></g>
<g fill="#b5b5b5"><circle cx="1259.3" cy="1395.0" r="3.4"/><circle cx="1259.5" cy="1331.9" r="3.4"/><circle cx="1219.2" cy="1315.0" r="3.4"/><circle cx="1240.7" cy="1438.9" r="3.4"/><circle cx="1240.1" cy="1469.0" r="3.4"/><circle cx="1242.0" cy="1409.2" r="3.4"/><circle cx="1249.8" cy="1415.0" r="3.4"/><circle cx="1257.5" cy="1447.2" r="3.4"/><circle cx="1237.9" cy="1466.8" r="3.4"/><circle cx="1262" cy="1330.4" r="3.4"/><circle cx="1240.9" cy="1444.6" r="3.4"/><circle cx="1218.6" cy="1384.4" r="3.4"/><circle cx="1237.3" cy="1452.1" r="3.4"/><circle cx="1251.8" cy="1454.6" r="3.4"/><circle cx="1242.5" cy="1396.6" r="3.4"/><circle cx="1241.7" cy="1410.8" r="3.4"/><circle cx="1240.9" cy="1403.1" r="3.4"/><circle cx="1226.0" cy="1363.3" r="3.4"/><circle cx="1251.5" cy="1458.6" r="3.4"/><circle cx="1256.1" cy="1372.1" r="3.4"/><circle cx="1238.1" cy="1381.6" r="3.4"/><circle cx="1218.4" cy="1433.8" r="3.4"/><circle cx="1241.9" cy="1398.9" r="3.4"/><circle cx="1249.6" cy="1459.9" r="3.4"/><circle cx="1215.6" cy="1455.9" r="3.4"/><circle cx="1242.3" cy="1399.4" r="3.4"/><circle cx="1221.1" cy="1429.1" r="3.4"/><circle cx="1258.0" cy="1415.1" r="3.4"/><circle cx="1230.3" cy="1440.6" r="3.4"/><circle cx="1241.1" cy="1444.4" r="3.4"/><circle cx="1256.3" cy="1424.5" r="3.4"/><circle cx="1240.2" cy="1407.7" r="3.4"/><circle cx="1219.7" cy="1340.8" r="3.4"/><circle cx="1239.3" cy="1444.1" r="3.4"/><circle cx="1254.6" cy="1418.9" r="3.4"/><circle cx="1255.5" cy="1412.8" r="3.4"/><circle cx="1254.6" cy="1441.1" r="3.4"/><circle cx="1247.1" cy="1458.1" r="3.4"/><circle cx="1262" cy="1336.9" r="3.4"/><circle cx="1220.5" cy="1345.5" r="3.4"/><circle cx="1256.9" cy="1365.7" r="3.4"/><circle cx="1257.5" cy="1395.9" r="3.4"/><circle cx="1247.0" cy="1464.3" r="3.4"/><circle cx="1242.8" cy="1468.0" r="3.4"/><circle cx="1262" cy="1327.0" r="3.4"/></g>
<g fill="#000"><circle cx="1268.9" cy="1401.7" r="3.4"/><circle cx="1269.4" cy="1458.3" r="3.4"/><circle cx="1292.3" cy="1346.3" r="3.4"/><circle cx="1265.1" cy="1364.3" r="3.4"/><circle cx="1294.5" cy="1453.0" r="3.4"/><circle cx="1285.5" cy="1440.3" r="3.4"/><circle cx="1289.3" cy="1305.4" r="3.4"/><circle cx="1301.4" cy="1458.3" r="3.4"/><circle cx="1284.7" cy="1378.2" r="3.4"/><circle cx="1267.8" cy="1414.6" r="3.4"/><circle cx="1296.8" cy="1413.8" r="3.4"/><circle cx="1266.0" cy="1311.1" r="3.4"/><circle cx="1289.1" cy="1423.0" r="3.4"/><circle cx="1300.0" cy="1468.0" r="3.4"/><circle cx="1278.9" cy="1395.5" r="3.4"/><circle cx="1302.1" cy="1442.0" r="3.4"/><circle cx="1294.5" cy="1421.5" r="3.4"/><circle cx="1302.9" cy="1439.3" r="3.4"/><circle cx="1302.9" cy="1473.0" r="3.4"/><circle cx="1306.3" cy="1350.6" r="3.4"/><circle cx="1274.1" cy="1353.4" r="3.4"/><circle cx="1269.9" cy="1435.3" r="3.4"/><circle cx="1269.7" cy="1420.9" r="3.4"/><circle cx="1270.8" cy="1437.9" r="3.4"/><circle cx="1302.0" cy="1469.2" r="3.4"/><circle cx="1266.9" cy="1453.6" r="3.4"/><circle cx="1299.2" cy="1459.5" r="3.4"/><circle cx="1291.5" cy="1435.2" r="3.4"/><circle cx="1302.6" cy="1389.9" r="3.4"/><circle cx="1296.6" cy="1425.7" r="3.4"/><circle cx="1266.6" cy="1465.8" r="3.4"/><circle cx="1267.6" cy="1462.6" r="3.4"/><circle cx="1299.6" cy="1302.7" r="3.4"/><circle cx="1279.2" cy="1399.6" r="3.4"/><circle cx="1264.9" cy="1432.2" r="3.4"/><circle cx="1287.0" cy="1432.6" r="3.4"/><circle cx="1303.8" cy="1451.5" r="3.4"/><circle cx="1269.6" cy="1389.6" r="3.4"/><circle cx="1304.9" cy="1467.2" r="3.4"/><circle cx="1272.5" cy="1368.3" r="3.4"/><circle cx="1285.4" cy="1405.7" r="3.4"/><circle cx="1297.8" cy="1369.0" r="3.4"/><circle cx="1300.9" cy="1434.5" r="3.4"/><circle cx="1300.0" cy="1455.1" r="3.4"/><circle cx="1263.4" cy="1306.5" r="3.4"/><circle cx="1270.2" cy="1426.5" r="3.4"/><circle cx="1288.1" cy="1466.9" r="3.4"/><circle cx="1284.6" cy="1381.0" r="3.4"/><circle cx="1294.9" cy="1426.2" r="3.4"/><circle cx="1278.8" cy="1336.5" r="3.4"/><circle cx="1294" cy="1409.3" r="3.4"/><circle cx="1267.0" cy="1468.7" r="3.4"/><circle cx="1278.4" cy="1364.8" r="3.4"/><circle cx="1296.5" cy="1455.1" r="3.4"/><circle cx="1291.3" cy="1456.9" r="3.4"/><circle cx="1293.1" cy="1415.3" r="3.4"/><circle cx="1286.9" cy="1457.1" r="3.4"/><circle cx="1283.0" cy="1382.1" r="3.4"/><circle cx="1285.1" cy="1427.1" r="3.4"/><circle cx="1265.0" cy="1316.2" r="3.4"/><circle cx="1289.8" cy="1462.7" r="3.4"/><circle cx="1299.3" cy="1421.0" r="3.4"/><circle cx="1270.9" cy="1459.6" r="3.4"/><circle cx="1265.4" cy="1445.3" r="3.4"/><circle cx="1273.0" cy="1441.5" r="3.4"/><circle cx="1275.6" cy="1370.4" r="3.4"/><circle cx="1301.6" cy="1399.6" r="3.4"/><circle cx="1284.0" cy="1385.2" r="3.4"/><circle cx="1286.0" cy="1382.4" r="3.4"/><circle cx="1303.9" cy="1401.6" r="3.4"/><circle cx="1281.3" cy="1448.0" r="3.4"/><circle cx="1288.9" cy="1453.0" r="3.4"/><circle cx="1272.7" cy="1373.2" r="3.4"/><circle cx="1299.9" cy="1370.6" r="3.4"/><circle cx="1279.6" cy="1401.6" r="3.4"/><circle cx="1305.6" cy="1457.1" r="3.4"/><circle cx="1285.7" cy="1467.2" r="3.4"/><circle cx="1267.4" cy="1416.4" r="3.4"/><circle cx="1296.3" cy="1366.0" r="3.4"/><circle cx="1287.1" cy="1456.5" r="3.4"/><circle cx="1269.1" cy="1462.0" r="3.4"/><circle cx="1297.7" cy="1366.2" r="3.4"/></g>
<g fill="#b5b5b5"><circle cx="1346.0" cy="1457.5" r="3.4"/><circle cx="1342.1" cy="1408.7" r="3.4"/><circle cx="1333.3" cy="1391.6" r="3.4"/><circle cx="1311.1" cy="1407.3" r="3.4"/><circle cx="1334.5" cy="1376.9" r="3.4"/><circle cx="1341.4" cy="1461.0" r="3.4"/><circle cx="1313.8" cy="1369.7" r="3.4"/><circle cx="1321.3" cy="1440.1" r="3.4"/><circle cx="1334.1" cy="1459.1" r="3.4"/><circle cx="1325.7" cy="1304.5" r="3.4"/><circle cx="1309.2" cy="1429.2" r="3.4"/><circle cx="1336.2" cy="1455.5" r="3.4"/><circle cx="1344.3" cy="1413.0" r="3.4"/><circle cx="1331.7" cy="1312.7" r="3.4"/><circle cx="1328.3" cy="1311.4" r="3.4"/><circle cx="1343.1" cy="1421.6" r="3.4"/><circle cx="1341.6" cy="1429.5" r="3.4"/><circle cx="1320.7" cy="1397.8" r="3.4"/><circle cx="1311.2" cy="1356.1" r="3.4"/><circle cx="1347" cy="1463.6" r="3.4"/><circle cx="1311.9" cy="1328.2" r="3.4"/><circle cx="1344.7" cy="1458.8" r="3.4"/><circle cx="1341.8" cy="1435.6" r="3.4"/><circle cx="1314.9" cy="1438.1" r="3.4"/><circle cx="1335.5" cy="1375.2" r="3.4"/><circle cx="1312.2" cy="1388.2" r="3.4"/><circle cx="1321.0" cy="1368.8" r="3.4"/><circle cx="1345.8" cy="1412.6" r="3.4"/><circle cx="1315.6" cy="1348.4" r="3.4"/><circle cx="1311.2" cy="1448.5" r="3.4"/><circle cx="1318.7" cy="1437.0" r="3.4"/><circle cx="1342.6" cy="1435.8" r="3.4"/><circle cx="1308.4" cy="1456.8" r="3.4"/><circle cx="1332.2" cy="1438.7" r="3.4"/><circle cx="1327.4" cy="1364.4" r="3.4"/><circle cx="1314.4" cy="1326.1" r="3.4"/><circle cx="1309.1" cy="1465.6" r="3.4"/><circle cx="1342.5" cy="1322.4" r="3.4"/><circle cx="1314.1" cy="1414.9" r="3.4"/><circle cx="1342.9" cy="1433.8" r="3.4"/><circle cx="1311.5" cy="1331.4" r="3.4"/><circle cx="1309.4" cy="1351.8" r="3.4"/><circle cx="1338.3" cy="1376.0" r="3.4"/><circle cx="1314.0" cy="1435.2" r="3.4"/><circle cx="1337.9" cy="1447.6" r="3.4"/><circle cx="1321.8" cy="1402.5" r="3.4"/><circle cx="1340.6" cy="1326.1" r="3.4"/><circle cx="1316.1" cy="1384.8" r="3.4"/><circle cx="1314.3" cy="1333.3" r="3.4"/><circle cx="1337.2" cy="1462.4" r="3.4"/><circle cx="1339.8" cy="1421.9" r="3.4"/><circle cx="1324.9" cy="1424.4" r="3.4"/><circle cx="1324.9" cy="1464.0" r="3.4"/><circle cx="1333.3" cy="1445.1" r="3.4"/><circle cx="1328.4" cy="1467.9" r="3.4"/><circle cx="1311.0" cy="1454.7" r="3.4"/><circle cx="1339.4" cy="1452.0" r="3.4"/><circle cx="1329.4" cy="1312.7" r="3.4"/><circle cx="1344.8" cy="1416.6" r="3.4"/><circle cx="1336.3" cy="1465.3" r="3.4"/><circle cx="1328.7" cy="1436.2" r="3.4"/><circle cx="1319.3" cy="1441.8" r="3.4"/><circle cx="1329.3" cy="1441.7" r="3.4"/><circle cx="1312.8" cy="1350.5" r="3.4"/><circle cx="1334.7" cy="1465.1" r="3.4"/><circle cx="1308.8" cy="1356.5" r="3.4"/><circle cx="1315.1" cy="1344.1" r="3.4"/><circle cx="1312.2" cy="1426.5" r="3.4"/><circle cx="1334.8" cy="1457.0" r="3.4"/><circle cx="1341.9" cy="1350.4" r="3.4"/><circle cx="1324.1" cy="1364.8" r="3.4"/><circle cx="1338.6" cy="1452.5" r="3.4"/><circle cx="1343.8" cy="1412.3" r="3.4"/><circle cx="1331.2" cy="1313.8" r="3.4"/><circle cx="1338.0" cy="1456.5" r="3.4"/><circle cx="1312.3" cy="1382.6" r="3.4"/><circle cx="1343.1" cy="1406.3" r="3.4"/></g>
<g fill="#000"><circle cx="1349.2" cy="1461.2" r="3.4"/><circle cx="1358.4" cy="1426.5" r="3.4"/><circle cx="1351.7" cy="1441.6" r="3.4"/><circle cx="1354.8" cy="1352.5" r="3.4"/><circle cx="1379.8" cy="1386.0" r="3.4"/><circle cx="1352.9" cy="1447.5" r="3.4"/><circle cx="1350.8" cy="1463.6" r="3.4"/><circle cx="1357.2" cy="1432.6" r="3.4"/><circle cx="1385.7" cy="1342.7" r="3.4"/><circle cx="1369.2" cy="1310.0" r="3.4"/><circle cx="1360.2" cy="1438.3" r="3.4"/><circle cx="1350.2" cy="1435.4" r="3.4"/><circle cx="1384.9" cy="1455.9" r="3.4"/><circle cx="1377.2" cy="1424.2" r="3.4"/><circle cx="1354.2" cy="1423.2" r="3.4"/><circle cx="1348.2" cy="1391.4" r="3.4"/><circle cx="1355.3" cy="1426.6" r="3.4"/><circle cx="1358.3" cy="1356.5" r="3.4"/><circle cx="1351.2" cy="1373.5" r="3.4"/><circle cx="1359.3" cy="1334.8" r="3.4"/><circle cx="1379.8" cy="1437.6" r="3.4"/><circle cx="1372.6" cy="1406.3" r="3.4"/><circle cx="1349.1" cy="1402.1" r="3.4"/><circle cx="1369.5" cy="1430.7" r="3.4"/><circle cx="1352.4" cy="1354.2" r="3.4"/><circle cx="1387.3" cy="1461.0" r="3.4"/><circle cx="1370.8" cy="1408.8" r="3.4"/><circle cx="1355.6" cy="1352.5" r="3.4"/><circle cx="1360.9" cy="1459.7" r="3.4"/><circle cx="1353.8" cy="1318.5" r="3.4"/><circle cx="1366.5" cy="1382.3" r="3.4"/><circle cx="1354.8" cy="1466.6" r="3.4"/><circle cx="1357.5" cy="1386.6" r="3.4"/><circle cx="1380.5" cy="1415.2" r="3.4"/><circle cx="1385.5" cy="1404.0" r="3.4"/><circle cx="1372.1" cy="1403.0" r="3.4"/><circle cx="1367.1" cy="1445.8" r="3.4"/><circle cx="1388.6" cy="1398.6" r="3.4"/><circle cx="1385.7" cy="1446.2" r="3.4"/><circle cx="1347.9" cy="1395.9" r="3.4"/><circle cx="1386.7" cy="1460.6" r="3.4"/><circle cx="1385.3" cy="1444.8" r="3.4"/><circle cx="1377.8" cy="1444.0" r="3.4"/><circle cx="1360.9" cy="1458.6" r="3.4"/><circle cx="1360.2" cy="1454.4" r="3.4"/><circle cx="1359.6" cy="1468.2" r="3.4"/><circle cx="1351.0" cy="1429.4" r="3.4"/><circle cx="1363.1" cy="1350.6" r="3.4"/><circle cx="1355.3" cy="1384.9" r="3.4"/><circle cx="1375.9" cy="1366.1" r="3.4"/><circle cx="1358.6" cy="1453.2" r="3.4"/><circle cx="1354.9" cy="1458.3" r="3.4"/><circle cx="1355.4" cy="1436.8" r="3.4"/><circle cx="1353.5" cy="1430.9" r="3.4"/><circle cx="1372.2" cy="1417.7" r="3.4"/><circle cx="1355.6" cy="1451.4" r="3.4"/><circle cx="1352.2" cy="1333.7" r="3.4"/><circle cx="1383.4" cy="1371.7" r="3.4"/><circle cx="1385.1" cy="1372.6" r="3.4"/><circle cx="1349.7" cy="1414.8" r="3.4"/><circle cx="1348.2" cy="1438.2" r="3.4"/><circle cx="1386.0" cy="1461.8" r="3.4"/><circle cx="1365.7" cy="1391.4" r="3.4"/><circle cx="1352.5" cy="1323.4" r="3.4"/><circle cx="1372.2" cy="1311.9" r="3.4"/><circle cx="1385.0" cy="1449.4" r="3.4"/><circle cx="1387.1" cy="1402.5" r="3.4"/><circle cx="1384.1" cy="1455.1" r="3.4"/><circle cx="1370.2" cy="1446.6" r="3.4"/><circle cx="1382.9" cy="1439.1" r="3.4"/></g>
<g fill="#b5b5b5"><circle cx="1393.4" cy="1346.7" r="3.4"/><circle cx="1399.2" cy="1421.8" r="3.4"/><circle cx="1392.7" cy="1444.1" r="3.4"/><circle cx="1392.3" cy="1456.8" r="3.4"/><circle cx="1416.0" cy="1399.6" r="3.4"/><circle cx="1388.3" cy="1400.1" r="3.4"/><circle cx="1412.8" cy="1451.5" r="3.4"/><circle cx="1392.5" cy="1381.5" r="3.4"/><circle cx="1395.7" cy="1423.4" r="3.4"/><circle cx="1394.6" cy="1462.7" r="3.4"/><circle cx="1396.1" cy="1417.5" r="3.4"/><circle cx="1409.1" cy="1372.6" r="3.4"/><circle cx="1414.3" cy="1385.0" r="3.4"/><circle cx="1417.0" cy="1425.5" r="3.4"/><circle cx="1391.7" cy="1403.5" r="3.4"/><circle cx="1393.5" cy="1414.7" r="3.4"/><circle cx="1387" cy="1385.1" r="3.4"/><circle cx="1403.7" cy="1465.9" r="3.4"/><circle cx="1391.9" cy="1465.3" r="3.4"/><circle cx="1389.8" cy="1389.1" r="3.4"/><circle cx="1407.2" cy="1457.8" r="3.4"/><circle cx="1396.5" cy="1426.1" r="3.4"/><circle cx="1387" cy="1406.9" r="3.4"/><circle cx="1407.6" cy="1437.6" r="3.4"/><circle cx="1399.4" cy="1418.3" r="3.4"/><circle cx="1418.8" cy="1434.9" r="3.4"/><circle cx="1422.9" cy="1462.3" r="3.4"/><circle cx="1424.2" cy="1362.0" r="3.4"/><circle cx="1423.2" cy="1460.5" r="3.4"/><circle cx="1413.4" cy="1464.3" r="3.4"/><circle cx="1403.5" cy="1385.9" r="3.4"/><circle cx="1391.5" cy="1435.7" r="3.4"/><circle cx="1397.6" cy="1459.1" r="3.4"/><circle cx="1407.9" cy="1401.6" r="3.4"/><circle cx="1388.1" cy="1354.9" r="3.4"/><circle cx="1417.6" cy="1315.8" r="3.4"/><circle cx="1410.5" cy="1435.1" r="3.4"/><circle cx="1394.5" cy="1451.3" r="3.4"/><circle cx="1420.3" cy="1428.2" r="3.4"/><circle cx="1407.2" cy="1300.7" r="3.4"/><circle cx="1393.9" cy="1450.0" r="3.4"/><circle cx="1398.9" cy="1311.0" r="3.4"/><circle cx="1388.6" cy="1413.5" r="3.4"/><circle cx="1387" cy="1453.4" r="3.4"/><circle cx="1406.0" cy="1307.1" r="3.4"/><circle cx="1419.9" cy="1404.7" r="3.4"/><circle cx="1404.5" cy="1462.0" r="3.4"/><circle cx="1418.7" cy="1314.4" r="3.4"/><circle cx="1389.1" cy="1447.9" r="3.4"/><circle cx="1422.5" cy="1414.9" r="3.4"/><circle cx="1388.9" cy="1453.2" r="3.4"/><circle cx="1394.8" cy="1422.1" r="3.4"/><circle cx="1423.0" cy="1448.2" r="3.4"/><circle cx="1387" cy="1391.6" r="3.4"/><circle cx="1414.0" cy="1439.8" r="3.4"/><circle cx="1393.2" cy="1429.9" r="3.4"/><circle cx="1417.2" cy="1425.2" r="3.4"/><circle cx="1416.2" cy="1373.5" r="3.4"/><circle cx="1387" cy="1404.6" r="3.4"/><circle cx="1424.2" cy="1459.4" r="3.4"/><circle cx="1414.6" cy="1357.5" r="3.4"/><circle cx="1394.6" cy="1429.9" r="3.4"/><circle cx="1399.4" cy="1463.3" r="3.4"/><circle cx="1414.7" cy="1399.4" r="3.4"/><circle cx="1413.3" cy="1379.7" r="3.4"/><circle cx="1389.1" cy="1455.5" r="3.4"/><circle cx="1420.4" cy="1457.9" r="3.4"/><circle cx="1411.3" cy="1466.6" r="3.4"/><circle cx="1423.2" cy="1338.4" r="3.4"/><circle cx="1388.5" cy="1448.3" r="3.4"/><circle cx="1407.5" cy="1437.1" r="3.4"/><circle cx="1403.2" cy="1467.4" r="3.4"/><circle cx="1406.6" cy="1402.9" r="3.4"/></g>
<g fill="#000"><circle cx="1438.9" cy="1363.7" r="3.4"/><circle cx="1435.7" cy="1401.7" r="3.4"/><circle cx="1446.5" cy="1348.3" r="3.4"/><circle cx="1422.7" cy="1442.5" r="3.4"/><circle cx="1433.3" cy="1410.4" r="3.4"/><circle cx="1434.4" cy="1308.0" r="3.4"/><circle cx="1434.2" cy="1468.1" r="3.4"/><circle cx="1424.4" cy="1432.7" r="3.4"/><circle cx="1445.1" cy="1385.0" r="3.4"/><circle cx="1446.4" cy="1358.5" r="3.4"/><circle cx="1448.3" cy="1347.2" r="3.4"/><circle cx="1433.1" cy="1446.7" r="3.4"/><circle cx="1424.0" cy="1431.7" r="3.4"/><circle cx="1450.7" cy="1415.6" r="3.4"/><circle cx="1453.2" cy="1328.2" r="3.4"/><circle cx="1425.7" cy="1433.4" r="3.4"/><circle cx="1451.5" cy="1459.6" r="3.4"/><circle cx="1452.5" cy="1378.9" r="3.4"/><circle cx="1453.3" cy="1461.4" r="3.4"/><circle cx="1437.0" cy="1447.4" r="3.4"/><circle cx="1439.9" cy="1386.4" r="3.4"/><circle cx="1442.4" cy="1384.7" r="3.4"/><circle cx="1443.9" cy="1391.1" r="3.4"/><circle cx="1435.3" cy="1411.1" r="3.4"/><circle cx="1423.3" cy="1441.6" r="3.4"/><circle cx="1436.0" cy="1449.6" r="3.4"/><circle cx="1446.5" cy="1453.3" r="3.4"/><circle cx="1443.0" cy="1438.9" r="3.4"/><circle cx="1441.7" cy="1421.6" r="3.4"/><circle cx="1453.9" cy="1461.5" r="3.4"/><circle cx="1450.3" cy="1417.4" r="3.4"/><circle cx="1453.1" cy="1455.1" r="3.4"/><circle cx="1450.2" cy="1463.1" r="3.4"/><circle cx="1437.9" cy="1445.6" r="3.4"/><circle cx="1450.7" cy="1453.9" r="3.4"/><circle cx="1436.4" cy="1404.0" r="3.4"/><circle cx="1441.3" cy="1384.1" r="3.4"/><circle cx="1451.4" cy="1412.8" r="3.4"/><circle cx="1438.0" cy="1399.9" r="3.4"/><circle cx="1440.2" cy="1448.3" r="3.4"/><circle cx="1446.2" cy="1389.3" r="3.4"/><circle cx="1447.1" cy="1426.3" r="3.4"/></g>
<g fill="#b5b5b5"><circle cx="1462.4" cy="1400.7" r="3.4"/><circle cx="1468.2" cy="1378.0" r="3.4"/><circle cx="1478.2" cy="1429.4" r="3.4"/><circle cx="1464.7" cy="1460.7" r="3.4"/><circle cx="1483.9" cy="1425.9" r="3.4"/><circle cx="1477.4" cy="1328.7" r="3.4"/><circle cx="1476.9" cy="1462.1" r="3.4"/><circle cx="1479.0" cy="1464.5" r="3.4"/><circle cx="1484.5" cy="1455.4" r="3.4"/><circle cx="1461.6" cy="1422.6" r="3.4"/><circle cx="1458.1" cy="1458.0" r="3.4"/><circle cx="1458.1" cy="1408.9" r="3.4"/><circle cx="1476.0" cy="1434.3" r="3.4"/><circle cx="1461.4" cy="1449.7" r="3.4"/><circle cx="1455.2" cy="1439.2" r="3.4"/><circle cx="1462.6" cy="1309.5" r="3.4"/><circle cx="1481.0" cy="1437.5" r="3.4"/><circle cx="1479.8" cy="1426.9" r="3.4"/><circle cx="1460.7" cy="1463.1" r="3.4"/><circle cx="1476.3" cy="1419.2" r="3.4"/><circle cx="1483.4" cy="1421.7" r="3.4"/><circle cx="1468.0" cy="1446.1" r="3.4"/><circle cx="1475.4" cy="1452.3" r="3.4"/><circle cx="1468.8" cy="1454.0" r="3.4"/><circle cx="1470.6" cy="1344.0" r="3.4"/><circle cx="1468.4" cy="1386.3" r="3.4"/><circle cx="1482.4" cy="1419.9" r="3.4"/><circle cx="1476.5" cy="1367.7" r="3.4"/><circle cx="1461.6" cy="1433.5" r="3.4"/><circle cx="1484.2" cy="1441.1" r="3.4"/><circle cx="1457.1" cy="1391.8" r="3.4"/><circle cx="1456.0" cy="1393.5" r="3.4"/><circle cx="1461.6" cy="1460.4" r="3.4"/><circle cx="1470.2" cy="1348.1" r="3.4"/><circle cx="1482.4" cy="1455.8" r="3.4"/><circle cx="1458.7" cy="1388.9" r="3.4"/><circle cx="1464.4" cy="1430.4" r="3.4"/><circle cx="1454.2" cy="1393.7" r="3.4"/><circle cx="1478.0" cy="1336.9" r="3.4"/><circle cx="1485" cy="1461.1" r="3.4"/><circle cx="1461.4" cy="1372.9" r="3.4"/><circle cx="1459.9" cy="1433.8" r="3.4"/><circle cx="1479.4" cy="1361.9" r="3.4"/><circle cx="1481.3" cy="1449.5" r="3.4"/><circle cx="1459.1" cy="1454.1" r="3.4"/><circle cx="1471.9" cy="1446.3" r="3.4"/><circle cx="1460.4" cy="1459.4" r="3.4"/><circle cx="1481.5" cy="1422.4" r="3.4"/><circle cx="1464.0" cy="1406.9" r="3.4"/><circle cx="1483.1" cy="1424.4" r="3.4"/><circle cx="1482.3" cy="1437.7" r="3.4"/><circle cx="1469.6" cy="1351.1" r="3.4"/><circle cx="1473.8" cy="1432.6" r="3.4"/><circle cx="1468.0" cy="1361.9" r="3.4"/><circle cx="1457.0" cy="1421.7" r="3.4"/><circle cx="1458.5" cy="1439.5" r="3.4"/><circle cx="1466.8" cy="1463.7" r="3.4"/><circle cx="1466.7" cy="1437.2" r="3.4"/><circle cx="1475.9" cy="1322.6" r="3.4"/><circle cx="1454.1" cy="1443.2" r="3.4"/><circle cx="1461.7" cy="1459.5" r="3.4"/><circle cx="1482.4" cy="1440.5" r="3.4"/><circle cx="1476.8" cy="1467.3" r="3.4"/><circle cx="1457.3" cy="1448.2" r="3.4"/><circle cx="1479.6" cy="1398.7" r="3.4"/><circle cx="1483.2" cy="1412.5" r="3.4"/><circle cx="1480.9" cy="1430.2" r="3.4"/><circle cx="1468.2" cy="1464.0" r="3.4"/><circle cx="1477.9" cy="1414.8" r="3.4"/><circle cx="1457.7" cy="1381.7" r="3.4"/><circle cx="1465.1" cy="1443.3" r="3.4"/></g>
<g fill="#000"><circle cx="1491.9" cy="1365.0" r="3.4"/><circle cx="1509.7" cy="1337.8" r="3.4"/><circle cx="1499.4" cy="1302.9" r="3.4"/><circle cx="1500.3" cy="1408.1" r="3.4"/><circle cx="1496.9" cy="1407.3" r="3.4"/><circle cx="1502.9" cy="1352.0" r="3.4"/><circle cx="1510.4" cy="1335.2" r="3.4"/><circle cx="1483.9" cy="1454.1" r="3.4"/><circle cx="1480.5" cy="1448.8" r="3.4"/><circle cx="1510.4" cy="1331.5" r="3.4"/><circle cx="1499.0" cy="1402.4" r="3.4"/><circle cx="1511.6" cy="1334.9" r="3.4"/><circle cx="1507.2" cy="1466.5" r="3.4"/><circle cx="1501.0" cy="1344.0" r="3.4"/><circle cx="1503.1" cy="1341.7" r="3.4"/><circle cx="1489.2" cy="1457.5" r="3.4"/><circle cx="1493.2" cy="1463.4" r="3.4"/><circle cx="1500.0" cy="1345.7" r="3.4"/><circle cx="1496.6" cy="1379.9" r="3.4"/><circle cx="1508.7" cy="1399.8" r="3.4"/><circle cx="1491.2" cy="1363.9" r="3.4"/><circle cx="1501.6" cy="1345.5" r="3.4"/><circle cx="1490.0" cy="1465.3" r="3.4"/><circle cx="1491.4" cy="1425.4" r="3.4"/><circle cx="1481.2" cy="1450.5" r="3.4"/><circle cx="1495.5" cy="1449.7" r="3.4"/><circle cx="1495.9" cy="1461.3" r="3.4"/><circle cx="1503.0" cy="1433.0" r="3.4"/><circle cx="1507.6" cy="1444.6" r="3.4"/><circle cx="1490.1" cy="1368.1" r="3.4"/><circle cx="1498.3" cy="1395.2" r="3.4"/><circle cx="1511.0" cy="1442.6" r="3.4"/><circle cx="1481.9" cy="1360.4" r="3.4"/><circle cx="1491.2" cy="1413.8" r="3.4"/><circle cx="1503.9" cy="1437.2" r="3.4"/><circle cx="1483.2" cy="1388.9" r="3.4"/><circle cx="1491.7" cy="1419.1" r="3.4"/><circle cx="1508.7" cy="1420.7" r="3.4"/><circle cx="1490.0" cy="1421.4" r="3.4"/><circle cx="1508.9" cy="1430.5" r="3.4"/><circle cx="1480.5" cy="1454.0" r="3.4"/></g>
<g fill="#b5b5b5"><circle cx="1525.3" cy="1341.5" r="3.4"/><circle cx="1523.8" cy="1462.6" r="3.4"/><circle cx="1516.7" cy="1432.0" r="3.4"/><circle cx="1531.6" cy="1375.5" r="3.4"/><circle cx="1530.0" cy="1414.4" r="3.4"/><circle cx="1527.3" cy="1393.0" r="3.4"/><circle cx="1530.3" cy="1410.4" r="3.4"/><circle cx="1521.0" cy="1459.8" r="3.4"/><circle cx="1519.0" cy="1453.7" r="3.4"/><circle cx="1515.1" cy="1444.0" r="3.4"/><circle cx="1520.6" cy="1450.4" r="3.4"/><circle cx="1526.7" cy="1338.1" r="3.4"/><circle cx="1529.2" cy="1372.9" r="3.4"/><circle cx="1526.1" cy="1416.0" r="3.4"/><circle cx="1526.6" cy="1465.2" r="3.4"/></g>
<g fill="#000"><circle cx="1537.4" cy="1401.8" r="3.4"/><circle cx="1551.0" cy="1440.3" r="3.4"/><circle cx="1553.9" cy="1435.8" r="3.4"/><circle cx="1543.4" cy="1458.5" r="3.4"/><circle cx="1550.6" cy="1435.0" r="3.4"/><circle cx="1539.7" cy="1447.0" r="3.4"/><circle cx="1540.2" cy="1408.4" r="3.4"/><circle cx="1547.1" cy="1462.1" r="3.4"/><circle cx="1547.1" cy="1426.6" r="3.4"/><circle cx="1548.5" cy="1383.4" r="3.4"/><circle cx="1548.2" cy="1346.6" r="3.4"/><circle cx="1537.5" cy="1435.2" r="3.4"/><circle cx="1541.4" cy="1428.8" r="3.4"/><circle cx="1548.8" cy="1390.3" r="3.4"/><circle cx="1538.0" cy="1365.2" r="3.4"/><circle cx="1539.5" cy="1438.0" r="3.4"/><circle cx="1540.1" cy="1434.8" r="3.4"/><circle cx="1552.0" cy="1374.0" r="3.4"/><circle cx="1538.5" cy="1405.9" r="3.4"/><circle cx="1536.5" cy="1419.5" r="3.4"/><circle cx="1537.3" cy="1430.6" r="3.4"/><circle cx="1544.7" cy="1421.7" r="3.4"/><circle cx="1551.2" cy="1333.7" r="3.4"/><circle cx="1552.3" cy="1435.7" r="3.4"/><circle cx="1541.9" cy="1457.9" r="3.4"/><circle cx="1542.5" cy="1434.9" r="3.4"/><circle cx="1537.8" cy="1362.3" r="3.4"/><circle cx="1539.1" cy="1435.8" r="3.4"/><circle cx="1547.8" cy="1332.5" r="3.4"/><circle cx="1545.2" cy="1462.6" r="3.4"/><circle cx="1539.8" cy="1431.7" r="3.4"/><circle cx="1536.1" cy="1413.9" r="3.4"/><circle cx="1536.7" cy="1455.4" r="3.4"/><circle cx="1545.3" cy="1455.4" r="3.4"/><circle cx="1546.0" cy="1467.2" r="3.4"/><circle cx="1540.8" cy="1451.7" r="3.4"/><circle cx="1541.5" cy="1312.4" r="3.4"/></g>
<g fill="#b5b5b5"><circle cx="303.7" cy="963.9" r="3.4"/><circle cx="545.6" cy="938.6" r="3.4"/><circle cx="302.4" cy="1025.2" r="3.4"/><circle cx="592.8" cy="1013.5" r="3.4"/><circle cx="691.7" cy="1041.4" r="3.4"/><circle cx="405.5" cy="1063.6" r="3.4"/><circle cx="536.7" cy="1086.0" r="3.4"/><circle cx="352.5" cy="1102.2" r="3.4"/><circle cx="685.1" cy="1102.7" r="3.4"/><circle cx="400.5" cy="1122.0" r="3.4"/><circle cx="401.3" cy="1126.4" r="3.4"/><circle cx="726.6" cy="1132.4" r="3.4"/><circle cx="553.9" cy="1147.0" r="3.4"/><circle cx="390.6" cy="1158.5" r="3.4"/><circle cx="371.0" cy="1163.5" r="3.4"/><circle cx="334.0" cy="1187.0" r="3.4"/><circle cx="350.4" cy="1185.9" r="3.4"/><circle cx="393.2" cy="1190.6" r="3.4"/><circle cx="719.0" cy="1185.7" r="3.4"/><circle cx="547.7" cy="1194.0" r="3.4"/><circle cx="685.4" cy="1199.0" r="3.4"/><circle cx="702.9" cy="1200.5" r="3.4"/><circle cx="306.3" cy="1198.2" r="3.4"/><circle cx="318.9" cy="1203.1" r="3.4"/><circle cx="331.4" cy="1206.8" r="3.4"/><circle cx="335.3" cy="1209.4" r="3.4"/><circle cx="382.5" cy="1208.9" r="3.4"/><circle cx="526.0" cy="1206.0" r="3.4"/><circle cx="303.2" cy="1219.0" r="3.4"/><circle cx="311.8" cy="1220.3" r="3.4"/><circle cx="377.0" cy="1219.6" r="3.4"/><circle cx="389.3" cy="1219.6" r="3.4"/><circle cx="340.8" cy="1225.6" r="3.4"/><circle cx="534.3" cy="1225.6" r="3.4"/><circle cx="595.4" cy="1215.9" r="3.4"/><circle cx="722.4" cy="1221.1" r="3.4"/><circle cx="718.3" cy="1235.2" r="3.4"/><circle cx="393.2" cy="1238.3" r="3.4"/><circle cx="1090.7" cy="949.0" r="3.4"/><circle cx="1117.3" cy="986.3" r="3.4"/><circle cx="751.6" cy="1049.0" r="3.4"/><circle cx="1128.0" cy="1058.1" r="3.4"/><circle cx="855.4" cy="1076.9" r="3.4"/><circle cx="870.5" cy="1085.7" r="3.4"/><circle cx="1095.4" cy="1097.2" r="3.4"/><circle cx="861.4" cy="1131.4" r="3.4"/><circle cx="1140.8" cy="1127.7" r="3.4"/><circle cx="1134.3" cy="1132.4" r="3.4"/><circle cx="1128.3" cy="1146.0" r="3.4"/><circle cx="1124.3" cy="1151.0" r="3.4"/><circle cx="763.3" cy="1157.2" r="3.4"/><circle cx="761.0" cy="1171.3" r="3.4"/><circle cx="837.9" cy="1166.9" r="3.4"/><circle cx="1025.0" cy="1174.2" r="3.4"/><circle cx="1003.0" cy="1184.3" r="3.4"/><circle cx="1094.3" cy="1187.7" r="3.4"/><circle cx="1104.3" cy="1186.2" r="3.4"/><circle cx="1119.4" cy="1194.8" r="3.4"/><circle cx="1105.3" cy="1204.2" r="3.4"/><circle cx="1146.8" cy="1204.7" r="3.4"/><circle cx="1025.7" cy="1205.5" r="3.4"/><circle cx="843.7" cy="1208.1" r="3.4"/><circle cx="888.0" cy="1213.3" r="3.4"/><circle cx="1132.2" cy="1217.0" r="3.4"/><circle cx="880.2" cy="1224.0" r="3.4"/><circle cx="984.0" cy="1223.0" r="3.4"/><circle cx="744.3" cy="1228.2" r="3.4"/><circle cx="898.7" cy="1230.8" r="3.4"/><circle cx="1116.8" cy="1226.9" r="3.4"/><circle cx="1092.5" cy="1232.6" r="3.4"/><circle cx="1128.3" cy="1233.4" r="3.4"/><circle cx="1123.6" cy="1235.2" r="3.4"/><circle cx="737.7" cy="1237.0" r="3.4"/><circle cx="756.5" cy="1239.1" r="3.4"/><circle cx="1170.0" cy="1147.3" r="3.4"/><circle cx="1387.0" cy="1034.9" r="3.4"/><circle cx="1235.1" cy="1111.0" r="3.4"/><circle cx="1252.1" cy="1124.6" r="3.4"/><circle cx="1322.8" cy="1124.6" r="3.4"/><circle cx="1256.5" cy="1155.4" r="3.4"/><circle cx="1217.9" cy="1169.2" r="3.4"/><circle cx="1219.7" cy="1172.9" r="3.4"/><circle cx="1394.3" cy="1169.5" r="3.4"/><circle cx="1480.6" cy="1166.3" r="3.4"/><circle cx="1517.1" cy="1172.9" r="3.4"/><circle cx="1223.9" cy="1184.3" r="3.4"/><circle cx="1235.1" cy="1193.7" r="3.4"/><circle cx="1329.0" cy="1190.1" r="3.4"/><circle cx="1413.8" cy="1200.8" r="3.4"/><circle cx="1314.4" cy="1204.4" r="3.4"/><circle cx="1335.0" cy="1209.4" r="3.4"/><circle cx="1257.0" cy="1209.4" r="3.4"/><circle cx="1322.0" cy="1213.6" r="3.4"/><circle cx="1343.1" cy="1229.0" r="3.4"/><circle cx="1328.0" cy="1235.0" r="3.4"/><circle cx="1422.2" cy="1236.3" r="3.4"/><circle cx="1337.1" cy="1238.6" r="3.4"/><circle cx="1228.3" cy="1239.9" r="3.4"/><circle cx="303.8" cy="1248.3" r="3.4"/><circle cx="405.0" cy="1246.7" r="3.4"/><circle cx="365.0" cy="1255.0" r="3.4"/><circle cx="315.4" cy="1260.7" r="3.4"/><circle cx="323.7" cy="1263.9" r="3.4"/><circle cx="326.7" cy="1274.1" r="3.4"/><circle cx="346.8" cy="1273.1" r="3.4"/><circle cx="302.4" cy="1283.3" r="3.4"/><circle cx="407.7" cy="1282.3" r="3.4"/><circle cx="342.4" cy="1288.2" r="3.4"/><circle cx="303.8" cy="1295.1" r="3.4"/><circle cx="329.8" cy="1294.2" r="3.4"/><circle cx="322.9" cy="1297.0" r="3.4"/><circle cx="301.9" cy="1300.5" r="3.4"/><circle cx="309.9" cy="1301.3" r="3.4"/><circle cx="392.0" cy="1292.8" r="3.4"/><circle cx="394.6" cy="1298.6" r="3.4"/><circle cx="524.2" cy="1248.6" r="3.4"/><circle cx="559.4" cy="1267.8" r="3.4"/><circle cx="565.1" cy="1266.4" r="3.4"/><circle cx="580.8" cy="1274.5" r="3.4"/><circle cx="535.6" cy="1280.6" r="3.4"/><circle cx="541.0" cy="1282.1" r="3.4"/><circle cx="540.4" cy="1289.8" r="3.4"/><circle cx="521.7" cy="1293.8" r="3.4"/><circle cx="522.4" cy="1298.0" r="3.4"/><circle cx="527.8" cy="1299.3" r="3.4"/><circle cx="532.6" cy="1299.3" r="3.4"/><circle cx="540.8" cy="1299.9" r="3.4"/><circle cx="559.7" cy="1297.0" r="3.4"/><circle cx="565.7" cy="1299.3" r="3.4"/><circle cx="571.8" cy="1300.5" r="3.4"/><circle cx="595.3" cy="1299.0" r="3.4"/><circle cx="600.9" cy="1300.9" r="3.4"/><circle cx="748.5" cy="1243.9" r="3.4"/><circle cx="687.3" cy="1253.0" r="3.4"/><circle cx="708.7" cy="1257.4" r="3.4"/><circle cx="759.4" cy="1253.2" r="3.4"/><circle cx="758.3" cy="1261.3" r="3.4"/><circle cx="754.4" cy="1266.4" r="3.4"/><circle cx="729.2" cy="1264.1" r="3.4"/><circle cx="743.3" cy="1270.3" r="3.4"/><circle cx="690.9" cy="1284.0" r="3.4"/><circle cx="714.3" cy="1285.9" r="3.4"/><circle cx="748.9" cy="1290.5" r="3.4"/><circle cx="762.3" cy="1297.8" r="3.4"/><circle cx="716.2" cy="1300.3" r="3.4"/><circle cx="892.9" cy="1257.1" r="3.4"/><circle cx="906.1" cy="1264.9" r="3.4"/><circle cx="899.3" cy="1268.9" r="3.4"/><circle cx="906.5" cy="1268.7" r="3.4"/><circle cx="900.2" cy="1273.1" r="3.4"/><circle cx="844.5" cy="1269.5" r="3.4"/><circle cx="861.8" cy="1275.8" r="3.4"/><circle cx="842.6" cy="1285.2" r="3.4"/><circle cx="842.6" cy="1291.3" r="3.4"/><circle cx="857.0" cy="1293.0" r="3.4"/><circle cx="858.1" cy="1299.0" r="3.4"/><circle cx="865.6" cy="1298.4" r="3.4"/><circle cx="878.6" cy="1300.1" r="3.4"/><circle cx="895.6" cy="1301.4" r="3.4"/><circle cx="1014.4" cy="1243.5" r="3.4"/><circle cx="1014.6" cy="1258.0" r="3.4"/><circle cx="1119.6" cy="1246.9" r="3.4"/><circle cx="1093.8" cy="1254.0" r="3.4"/><circle cx="1110.4" cy="1260.5" r="3.4"/><circle cx="1117.5" cy="1264.5" r="3.4"/><circle cx="1131.1" cy="1260.1" r="3.4"/><circle cx="1147.5" cy="1264.5" r="3.4"/><circle cx="1098.0" cy="1271.6" r="3.4"/><circle cx="1141.4" cy="1274.5" r="3.4"/><circle cx="972.5" cy="1283.5" r="3.4"/><circle cx="1011.9" cy="1293.4" r="3.4"/><circle cx="1026.8" cy="1298.2" r="3.4"/><circle cx="1142.5" cy="1292.8" r="3.4"/><circle cx="1221.4" cy="1266.8" r="3.4"/><circle cx="1230.7" cy="1274.1" r="3.4"/><circle cx="1220.6" cy="1286.9" r="3.4"/><circle cx="1227.1" cy="1291.7" r="3.4"/><circle cx="1239.7" cy="1295.1" r="3.4"/><circle cx="1252.9" cy="1296.5" r="3.4"/><circle cx="1318.3" cy="1255.9" r="3.4"/><circle cx="1331.7" cy="1261.1" r="3.4"/><circle cx="1339.1" cy="1262.8" r="3.4"/><circle cx="1392.5" cy="1274.1" r="3.4"/><circle cx="1395.6" cy="1272.2" r="3.4"/><circle cx="1322.5" cy="1284.6" r="3.4"/><circle cx="1335.9" cy="1292.3" r="3.4"/><circle cx="1314.7" cy="1299.3" r="3.4"/><circle cx="1326.5" cy="1300.5" r="3.4"/><circle cx="1329.4" cy="1298.0" r="3.4"/><circle cx="1255.4" cy="1299.3" r="3.4"/><circle cx="1399.6" cy="1295.1" r="3.4"/><circle cx="1415.9" cy="1290.0" r="3.4"/><circle cx="1419.3" cy="1293.6" r="3.4"/><circle cx="1421.2" cy="1296.7" r="3.4"/><circle cx="1410.7" cy="1300.9" r="3.4"/><circle cx="1458.1" cy="1246.5" r="3.4"/><circle cx="1464.8" cy="1254.8" r="3.4"/><circle cx="1474.0" cy="1255.0" r="3.4"/><circle cx="1480.3" cy="1260.3" r="3.4"/><circle cx="1464.8" cy="1271.6" r="3.4"/><circle cx="1477.8" cy="1291.7" r="3.4"/><circle cx="1530.3" cy="1285.6" r="3.4"/><circle cx="1527.0" cy="1293.2" r="3.4"/><circle cx="1528.9" cy="1296.1" r="3.4"/></g>
<g fill="#000"><circle cx="612.3" cy="1007.2" r="3.4"/><circle cx="474.6" cy="1025.5" r="3.4"/><circle cx="662.4" cy="1024.4" r="3.4"/><circle cx="499.7" cy="1050.5" r="3.4"/><circle cx="673.9" cy="1066.2" r="3.4"/><circle cx="641.0" cy="1081.6" r="3.4"/><circle cx="625.4" cy="1095.4" r="3.4"/><circle cx="496.0" cy="1100.1" r="3.4"/><circle cx="454.3" cy="1108.2" r="3.4"/><circle cx="493.4" cy="1137.4" r="3.4"/><circle cx="500.2" cy="1161.4" r="3.4"/><circle cx="472.0" cy="1166.1" r="3.4"/><circle cx="611.3" cy="1171.3" r="3.4"/><circle cx="632.7" cy="1174.4" r="3.4"/><circle cx="675.5" cy="1175.0" r="3.4"/><circle cx="682.5" cy="1185.1" r="3.4"/><circle cx="462.1" cy="1183.8" r="3.4"/><circle cx="499.9" cy="1204.2" r="3.4"/><circle cx="603.2" cy="1213.8" r="3.4"/><circle cx="649.7" cy="1214.6" r="3.4"/><circle cx="420.9" cy="1224.3" r="3.4"/><circle cx="502.5" cy="1230.5" r="3.4"/><circle cx="514.5" cy="1231.8" r="3.4"/><circle cx="439.7" cy="1237.8" r="3.4"/><circle cx="1161.4" cy="973.0" r="3.4"/><circle cx="1066.2" cy="987.4" r="3.4"/><circle cx="777.9" cy="1018.2" r="3.4"/><circle cx="799.6" cy="1017.9" r="3.4"/><circle cx="936.3" cy="1047.4" r="3.4"/><circle cx="948.0" cy="1071.1" r="3.4"/><circle cx="811.3" cy="1095.1" r="3.4"/><circle cx="763.6" cy="1103.5" r="3.4"/><circle cx="831.7" cy="1118.6" r="3.4"/><circle cx="766.7" cy="1124.1" r="3.4"/><circle cx="1156.7" cy="1114.4" r="3.4"/><circle cx="1168.7" cy="1106.6" r="3.4"/><circle cx="1149.7" cy="1137.9" r="3.4"/><circle cx="783.7" cy="1146.0" r="3.4"/><circle cx="763.6" cy="1163.0" r="3.4"/><circle cx="1055.0" cy="1167.1" r="3.4"/><circle cx="939.4" cy="1183.0" r="3.4"/><circle cx="1036.4" cy="1185.4" r="3.4"/><circle cx="1151.2" cy="1182.3" r="3.4"/><circle cx="779.5" cy="1194.0" r="3.4"/><circle cx="810.5" cy="1195.3" r="3.4"/><circle cx="1037.5" cy="1200.5" r="3.4"/><circle cx="970.2" cy="1201.8" r="3.4"/><circle cx="827.2" cy="1206.5" r="3.4"/><circle cx="816.8" cy="1208.3" r="3.4"/><circle cx="951.9" cy="1208.6" r="3.4"/><circle cx="1045.8" cy="1209.9" r="3.4"/><circle cx="1051.6" cy="1213.0" r="3.4"/><circle cx="779.7" cy="1217.5" r="3.4"/><circle cx="917.5" cy="1218.3" r="3.4"/><circle cx="913.8" cy="1221.4" r="3.4"/><circle cx="923.5" cy="1225.3" r="3.4"/><circle cx="766.4" cy="1228.4" r="3.4"/><circle cx="776.9" cy="1233.1" r="3.4"/><circle cx="810.5" cy="1233.4" r="3.4"/><circle cx="818.6" cy="1231.0" r="3.4"/><circle cx="965.0" cy="1232.9" r="3.4"/><circle cx="820.4" cy="1238.6" r="3.4"/><circle cx="795.7" cy="1239.9" r="3.4"/><circle cx="1175.4" cy="1039.3" r="3.4"/><circle cx="1286.8" cy="1129.0" r="3.4"/><circle cx="1268.0" cy="1135.8" r="3.4"/><circle cx="1369.2" cy="1135.3" r="3.4"/><circle cx="1541.7" cy="1138.4" r="3.4"/><circle cx="1172.8" cy="1147.0" r="3.4"/><circle cx="1371.8" cy="1152.3" r="3.4"/><circle cx="1200.2" cy="1172.9" r="3.4"/><circle cx="1422.4" cy="1178.3" r="3.4"/><circle cx="1446.7" cy="1178.1" r="3.4"/><circle cx="1184.5" cy="1185.9" r="3.4"/><circle cx="1181.4" cy="1195.3" r="3.4"/><circle cx="1193.1" cy="1197.9" r="3.4"/><circle cx="1283.9" cy="1194.8" r="3.4"/><circle cx="1190.8" cy="1204.7" r="3.4"/><circle cx="1431.6" cy="1212.8" r="3.4"/><circle cx="1424.3" cy="1216.2" r="3.4"/><circle cx="1197.3" cy="1235.5" r="3.4"/><circle cx="1193.9" cy="1237.8" r="3.4"/><circle cx="1373.9" cy="1239.9" r="3.4"/><circle cx="444.2" cy="1250.6" r="3.4"/><circle cx="446.5" cy="1256.5" r="3.4"/><circle cx="495.1" cy="1256.3" r="3.4"/><circle cx="435.4" cy="1268.9" r="3.4"/><circle cx="424.3" cy="1273.1" r="3.4"/><circle cx="468.7" cy="1282.9" r="3.4"/><circle cx="484.6" cy="1281.7" r="3.4"/><circle cx="472.9" cy="1292.1" r="3.4"/><circle cx="421.6" cy="1296.5" r="3.4"/><circle cx="459.1" cy="1298.2" r="3.4"/><circle cx="608.5" cy="1268.9" r="3.4"/><circle cx="618.7" cy="1269.3" r="3.4"/><circle cx="620.0" cy="1260.7" r="3.4"/><circle cx="615.8" cy="1286.5" r="3.4"/><circle cx="606.6" cy="1296.5" r="3.4"/><circle cx="666.8" cy="1251.7" r="3.4"/><circle cx="648.5" cy="1261.1" r="3.4"/><circle cx="636.8" cy="1266.8" r="3.4"/><circle cx="642.5" cy="1266.4" r="3.4"/><circle cx="645.6" cy="1283.7" r="3.4"/><circle cx="663.0" cy="1285.0" r="3.4"/><circle cx="640.2" cy="1298.0" r="3.4"/><circle cx="648.3" cy="1297.4" r="3.4"/><circle cx="768.8" cy="1232.0" r="3.4"/><circle cx="828.3" cy="1250.0" r="3.4"/><circle cx="836.9" cy="1248.5" r="3.4"/><circle cx="794.2" cy="1259.9" r="3.4"/><circle cx="825.8" cy="1267.0" r="3.4"/><circle cx="769.0" cy="1272.6" r="3.4"/><circle cx="770.1" cy="1276.0" r="3.4"/><circle cx="776.8" cy="1281.4" r="3.4"/><circle cx="786.2" cy="1279.4" r="3.4"/><circle cx="777.8" cy="1286.9" r="3.4"/><circle cx="810.7" cy="1279.3" r="3.4"/><circle cx="773.6" cy="1293.4" r="3.4"/><circle cx="925.1" cy="1263.9" r="3.4"/><circle cx="931.6" cy="1279.8" r="3.4"/><circle cx="907.5" cy="1293.8" r="3.4"/><circle cx="938.7" cy="1251.1" r="3.4"/><circle cx="940.0" cy="1299.0" r="3.4"/><circle cx="970.2" cy="1268.7" r="3.4"/><circle cx="944.3" cy="1283.3" r="3.4"/><circle cx="951.0" cy="1284.0" r="3.4"/><circle cx="947.6" cy="1288.1" r="3.4"/><circle cx="970.0" cy="1292.1" r="3.4"/><circle cx="958.7" cy="1297.6" r="3.4"/><circle cx="946.3" cy="1299.9" r="3.4"/><circle cx="1065.3" cy="1243.3" r="3.4"/><circle cx="1089.2" cy="1245.8" r="3.4"/><circle cx="1054.9" cy="1261.1" r="3.4"/><circle cx="1084.2" cy="1271.2" r="3.4"/><circle cx="1076.9" cy="1280.4" r="3.4"/><circle cx="1074.4" cy="1287.5" r="3.4"/><circle cx="1071.6" cy="1291.5" r="3.4"/><circle cx="1045.0" cy="1290.7" r="3.4"/><circle cx="1090.5" cy="1296.3" r="3.4"/><circle cx="1062.6" cy="1299.9" r="3.4"/><circle cx="1195.9" cy="1260.3" r="3.4"/><circle cx="1159.0" cy="1275.4" r="3.4"/><circle cx="1182.9" cy="1277.3" r="3.4"/><circle cx="1193.8" cy="1280.4" r="3.4"/><circle cx="1180.8" cy="1297.2" r="3.4"/><circle cx="1197.8" cy="1298.6" r="3.4"/><circle cx="1267.4" cy="1254.0" r="3.4"/><circle cx="1297.1" cy="1250.4" r="3.4"/><circle cx="1361.3" cy="1250.0" r="3.4"/><circle cx="1348.5" cy="1265.9" r="3.4"/><circle cx="1277.4" cy="1283.3" r="3.4"/><circle cx="1294.2" cy="1285.6" r="3.4"/><circle cx="1301.7" cy="1288.6" r="3.4"/><circle cx="1276.8" cy="1298.2" r="3.4"/><circle cx="1356.6" cy="1291.9" r="3.4"/><circle cx="1348.3" cy="1297.0" r="3.4"/><circle cx="1446.9" cy="1267.0" r="3.4"/><circle cx="1448.2" cy="1274.7" r="3.4"/><circle cx="1499.5" cy="1255.7" r="3.4"/><circle cx="1506.2" cy="1256.7" r="3.4"/><circle cx="1502.9" cy="1263.4" r="3.4"/><circle cx="1498.1" cy="1269.3" r="3.4"/><circle cx="1509.0" cy="1281.7" r="3.4"/><circle cx="1490.1" cy="1289.6" r="3.4"/><circle cx="1546.7" cy="1272.4" r="3.4"/></g>
</g>
<line x1="355.9" y1="1466.8" x2="1545" y2="1466.8" stroke="#a2a2a2" stroke-width="1.9"/>
<g stroke="#3a3a3a" stroke-width="1.6"><line x1="355.9" y1="1465.9" x2="355.9" y2="1477.6"/><line x1="462" y1="1465.9" x2="462" y2="1477.6"/><line x1="560" y1="1465.9" x2="560" y2="1477.6"/><line x1="642.9" y1="1465.9" x2="642.9" y2="1477.6"/><line x1="724.1" y1="1465.9" x2="724.1" y2="1477.6"/><line x1="800.3" y1="1465.9" x2="800.3" y2="1477.6"/><line x1="872.5" y1="1465.9" x2="872.5" y2="1477.6"/><line x1="938.6" y1="1465.9" x2="938.6" y2="1477.6"/><line x1="1001.7" y1="1465.9" x2="1001.7" y2="1477.6"/><line x1="1060.9" y1="1465.9" x2="1060.9" y2="1477.6"/><line x1="1120.3" y1="1465.9" x2="1120.3" y2="1477.6"/><line x1="1178.6" y1="1465.9" x2="1178.6" y2="1477.6"/><line x1="1236.8" y1="1465.9" x2="1236.8" y2="1477.6"/><line x1="1284.9" y1="1465.9" x2="1284.9" y2="1477.6"/><line x1="1331.3" y1="1465.9" x2="1331.3" y2="1477.6"/><line x1="1367" y1="1465.9" x2="1367" y2="1477.6"/><line x1="1404.3" y1="1465.9" x2="1404.3" y2="1477.6"/><line x1="1439.4" y1="1465.9" x2="1439.4" y2="1477.6"/><line x1="1469" y1="1465.9" x2="1469" y2="1477.6"/><line x1="1496" y1="1465.9" x2="1496" y2="1477.6"/><line x1="1523.2" y1="1465.9" x2="1523.2" y2="1477.6"/><line x1="1545" y1="1465.9" x2="1545" y2="1477.6"/></g>
<g font-size="16.5" text-anchor="middle" fill="#000">
<text x="355.9" y="1505.7">1</text>
<text x="462" y="1505.7">2</text>
<text x="560" y="1505.7">3</text>
<text x="642.9" y="1505.7">4</text>
<text x="724.1" y="1505.7">5</text>
<text x="800.3" y="1505.7">6</text>
<text x="872.5" y="1505.7">7</text>
<text x="938.6" y="1505.7">8</text>
<text x="1001.7" y="1505.7">9</text>
<text x="1060.9" y="1505.7">10</text>
<text x="1120.3" y="1505.7">11</text>
<text x="1178.6" y="1505.7">12</text>
<text x="1236.8" y="1505.7">13</text>
<text x="1284.9" y="1505.7">14</text>
<text x="1331.3" y="1505.7">15</text>
<text x="1367" y="1505.7">16</text>
<text x="1404.3" y="1505.7">17</text>
<text x="1439.4" y="1505.7">18</text>
<text x="1496" y="1505.7">20</text>
<text x="1545" y="1505.7">22</text>
</g>
<text x="926.6" y="1551" font-size="18.6" text-anchor="middle" fill="#000">Chromosome</text>
<text transform="translate(583.37 1625.56) rotate(0.03) scale(0.988 1.04)" font-size="42.3" font-weight="bold" fill="#000" style="stroke-width:0;text-rendering:geometricPrecision">D</text>
<path d="M924.45 1941.4L924.45 1675.20A266.7 266.2 0 0 1 1150.65 1800.38Z" fill="#789dfb" stroke="#789dfb" stroke-width="0.6"/>
<path d="M924.45 1941.4L1150.65 1800.38A266.7 266.2 0 0 1 1033.41 2184.37Z" fill="#6ab846" stroke="#6ab846" stroke-width="0.6"/>
<path d="M924.45 1941.4L1033.41 2184.37A266.7 266.2 0 1 1 924.45 1675.20Z" fill="#dc746d" stroke="#dc746d" stroke-width="0.6"/>
<g font-size="18.5" text-anchor="middle" fill="#000">
<text x="988.9" y="1831.2">15.95</text><text x="1051.3" y="1987.4">26.91</text><text x="793.2" y="1976.3">56.12</text>
</g>
<text x="1268.2" y="1899.2" font-size="18.7" fill="#000">feature</text>
<rect x="1269.8" y="1912.3" width="27.1" height="26.3" fill="#dc746d"/><rect x="1269.8" y="1941.8" width="27.1" height="26.1" fill="#6ab846"/><rect x="1269.8" y="1971.2" width="27.1" height="26.1" fill="#789dfb"/>
<g font-size="15" fill="#000"><text x="1307.6" y="1930.8">Gene body</text><text x="1307.6" y="1960.1">Intergenic</text><text x="1307.6" y="1989.5">Promoter</text></g>
</svg>
</body></html>
